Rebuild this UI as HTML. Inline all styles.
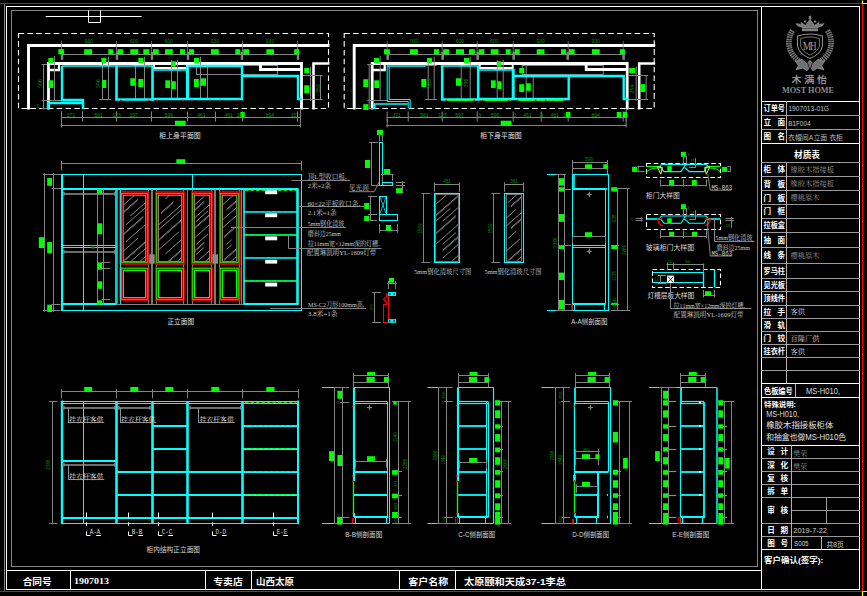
<!DOCTYPE html>
<html lang="zh"><head><meta charset="utf-8"><title>CAD drawing - wardrobe elevation</title>
<style>html,body{margin:0;padding:0;background:#000;overflow:hidden}svg{display:block}.cj{font-family:"Liberation Sans","Noto Sans CJK SC",sans-serif}.cs{font-family:"Liberation Serif","Noto Serif CJK SC",serif}</style></head>
<body><svg width="867" height="596" viewBox="0 0 867 596" fill="none" font-family="Liberation Sans, sans-serif">
<rect width="867" height="596" fill="#000"/>
<g id="frame">
<path d="M0 3.5L863.2 3.5" stroke="#ff0000" stroke-width="1.2"/>
<path d="M862.5 3L862.5 591.5" stroke="#ff0000" stroke-width="1.2"/>
<path d="M0 591.5L863.2 591.5" stroke="#ff0000" stroke-width="1.2"/>
<path d="M862.5 0.5L862.5 3.5L867.5 3.5" stroke="#ffff00" stroke-width="1.2" fill="none"/>
<path d="M862.5 596.5L862.5 591.5L867.5 591.5" stroke="#ffff00" stroke-width="1.2" fill="none"/>
<path d="M4.5 4L4.5 590.5" stroke="#848484" stroke-width="1"/>
<rect x="6.5" y="6.5" width="853" height="583" fill="none" stroke="#ffffff" stroke-width="1"/>
<rect x="11.5" y="10.5" width="746" height="556" fill="none" stroke="#848484" stroke-width="1"/>
<path d="M761.5 6.5L761.5 589" stroke="#ffffff" stroke-width="1"/>
<path d="M6.3 570.5L761.5 570.5" stroke="#ffffff" stroke-width="1"/>
<path d="M45.7 16.5L141.7 16.5" stroke="#ffffff" stroke-width="1"/>
<path d="M88.5 10.5L88.5 22.5L100.5 22.5L100.5 10.5" stroke="#ffffff" stroke-width="1" fill="none"/>
</g>
<g id="bottom_strip">
<path d="M70.5 570.3L70.5 589" stroke="#ffffff" stroke-width="1"/>
<path d="M205.5 570.3L205.5 589" stroke="#ffffff" stroke-width="1"/>
<path d="M251.5 570.3L251.5 589" stroke="#ffffff" stroke-width="1"/>
<path d="M399.5 570.3L399.5 589" stroke="#ffffff" stroke-width="1"/>
<path d="M455.5 570.3L455.5 589" stroke="#ffffff" stroke-width="1"/>
<text class="cj" x="22.7" y="584.6" font-size="9.4" font-weight="bold" fill="#ffffff" textLength="29" lengthAdjust="spacingAndGlyphs">合同号</text>
<text x="74" y="584.3" font-size="9.2" fill="#ffffff" font-family="Liberation Serif" font-weight="bold" textLength="35" lengthAdjust="spacingAndGlyphs">1907013</text>
<text class="cj" x="213.3" y="584.6" font-size="9.4" font-weight="bold" fill="#ffffff" textLength="29.4" lengthAdjust="spacingAndGlyphs">专卖店</text>
<text class="cj" x="256" y="584.6" font-size="9.4" font-weight="bold" fill="#ffffff" textLength="38" lengthAdjust="spacingAndGlyphs">山西太原</text>
<text class="cj" x="408.3" y="584.6" font-size="9.4" font-weight="bold" fill="#ffffff" textLength="40" lengthAdjust="spacingAndGlyphs">客户名称</text>
<text class="cj" x="464" y="584.6" font-size="9.4" font-weight="bold" fill="#ffffff" textLength="102" lengthAdjust="spacingAndGlyphs">太原颐和天成37-1李总</text>
</g>
<g id="title_block">
<rect x="802" y="28.6" width="16" height="2.6" fill="#808080"/>
<path d="M802.5 28L801 22.5L805.5 25.6L810 19.5L814.5 25.6L819 22.5L817.5 28z" stroke="#8c8c8c" stroke-width="0.9" fill="#787878"/>
<path d="M802 27.5 Q797 27 795.6 23.2 Q799.5 23 802.6 25.4 Z M818 27.5 Q823 27 824.4 23.2 Q820.5 23 817.4 25.4 Z" fill="#808080"/>
<circle cx="810" cy="18.2" r="1.3" fill="#8c8c8c"/><circle cx="805" cy="21.6" r="1.1" fill="#8c8c8c"/><circle cx="815" cy="21.6" r="1.1" fill="#8c8c8c"/>
<path d="M810.5 15.6L810.5 19" stroke="#8c8c8c" stroke-width="0.9"/>
<path d="M808.8 16.5L811.2 16.5" stroke="#8c8c8c" stroke-width="0.9"/>
<path d="M797.5 36 Q810 32 822.5 36 L822.5 46 Q821 54 810 58.5 Q799 54 797.5 46 Z" stroke="#8c8c8c" stroke-width="1.1"/>
<path d="M800.6 38.5 Q810 35.4 819.4 38.5 L819.4 46 Q818 51.5 810 55 Q802 51.5 800.6 46 Z" stroke="#8c8c8c" stroke-width="0.8"/>
<text x="807" y="50.2" font-size="12.5" fill="#9a9a9a" text-anchor="middle" font-family="Liberation Serif" textLength="8.6" lengthAdjust="spacingAndGlyphs">M</text>
<text x="813.2" y="50.2" font-size="12.5" fill="#9a9a9a" text-anchor="middle" font-family="Liberation Serif" textLength="6.6" lengthAdjust="spacingAndGlyphs">H</text>
<path d="M792.5 30.5 Q786.5 40 790.5 51 Q794 58.5 802 62.5" stroke="#7c7c7c" stroke-width="5.6" stroke-dasharray="1.5 0.7"/>
<path d="M827.5 30.5 Q833.5 40 829.5 51 Q826 58.5 818 62.5" stroke="#7c7c7c" stroke-width="5.6" stroke-dasharray="1.5 0.7"/>
<path d="M792.5 30.5 Q786.5 40 790.5 51 Q794 58.5 802 62.5 M827.5 30.5 Q833.5 40 829.5 51 Q826 58.5 818 62.5" stroke="#000" stroke-width="0.6" opacity="0.6"/>
<path d="M795.5 61.5L802 59.5L806.5 63.5L810 60.5L813.5 63.5L818 59.5L824.5 61.5L821.5 65.5L824 69.8L817 68L813 70.8L810 66.5L807 70.8L803 68L796 69.8L798.5 65.5z" stroke="#8c8c8c" stroke-width="0.9" fill="#707070"/>
<path d="M806.5 60L810 69.5L813.5 60" stroke="#000" stroke-width="0.7" fill="none"/>
<text class="cj" x="791.4" y="83.2" font-size="9.2" font-weight="bold" fill="#939393" textLength="35.7" lengthAdjust="spacingAndGlyphs" xml:space="preserve">木 满 怡</text>
<text x="808" y="92.9" font-size="8.6" fill="#8a8a8a" text-anchor="middle" font-family="Liberation Serif" font-weight="bold" textLength="52.2" lengthAdjust="spacingAndGlyphs">MOST HOME</text>
<path d="M761.5 101.5L859.8 101.5" stroke="#ffffff" stroke-width="1"/>
<path d="M761.5 115.5L859.8 115.5" stroke="#9a9a9a" stroke-width="1"/>
<path d="M761.5 129.5L859.8 129.5" stroke="#9a9a9a" stroke-width="1"/>
<path d="M761.5 143.5L859.8 143.5" stroke="#ffffff" stroke-width="1"/>
<path d="M761.5 162.5L859.8 162.5" stroke="#9a9a9a" stroke-width="1"/>
<path d="M761.5 176.5L859.8 176.5" stroke="#9a9a9a" stroke-width="1"/>
<path d="M761.5 190.5L859.8 190.5" stroke="#9a9a9a" stroke-width="1"/>
<path d="M761.5 204.5L859.8 204.5" stroke="#9a9a9a" stroke-width="1"/>
<path d="M761.5 218.5L859.8 218.5" stroke="#9a9a9a" stroke-width="1"/>
<path d="M761.5 232.5L859.8 232.5" stroke="#9a9a9a" stroke-width="1"/>
<path d="M761.5 247.5L859.8 247.5" stroke="#9a9a9a" stroke-width="1"/>
<path d="M761.5 263.5L859.8 263.5" stroke="#9a9a9a" stroke-width="1"/>
<path d="M761.5 278.5L859.8 278.5" stroke="#9a9a9a" stroke-width="1"/>
<path d="M761.5 291.5L859.8 291.5" stroke="#9a9a9a" stroke-width="1"/>
<path d="M761.5 305.5L859.8 305.5" stroke="#9a9a9a" stroke-width="1"/>
<path d="M761.5 318.5L859.8 318.5" stroke="#9a9a9a" stroke-width="1"/>
<path d="M761.5 331.5L859.8 331.5" stroke="#9a9a9a" stroke-width="1"/>
<path d="M761.5 344.5L859.8 344.5" stroke="#9a9a9a" stroke-width="1"/>
<path d="M761.5 357.5L859.8 357.5" stroke="#9a9a9a" stroke-width="1"/>
<path d="M761.5 370.5L859.8 370.5" stroke="#9a9a9a" stroke-width="1"/>
<path d="M761.5 383.5L859.8 383.5" stroke="#ffffff" stroke-width="1"/>
<path d="M761.5 397.5L859.8 397.5" stroke="#ffffff" stroke-width="1"/>
<path d="M786.5 101.2L786.5 143.3" stroke="#b0b0b0" stroke-width="1"/>
<path d="M786.5 162.7L786.5 383.4" stroke="#b0b0b0" stroke-width="1"/>
<path d="M795.5 383.4L795.5 397.4" stroke="#b0b0b0" stroke-width="1"/>
<text class="cj" x="763.6" y="110.99" font-size="7.6" font-weight="bold" fill="#ffffff" textLength="21.4" lengthAdjust="spacingAndGlyphs">订单号</text>
<text class="cj" x="763.6" y="125.04" font-size="7.6" font-weight="bold" fill="#ffffff">立</text>
<text class="cj" x="777.4" y="125.04" font-size="7.6" font-weight="bold" fill="#ffffff">面</text>
<text class="cj" x="763.6" y="139.04" font-size="7.6" font-weight="bold" fill="#ffffff">图</text>
<text class="cj" x="777.4" y="139.04" font-size="7.6" font-weight="bold" fill="#ffffff">名</text>
<text x="788.4" y="111.1" font-size="6.8" fill="#c4c4cc" textLength="40.6" lengthAdjust="spacingAndGlyphs">1907013-01G</text>
<text x="788.2" y="126" font-size="6.8" fill="#c4c4cc" textLength="22.3" lengthAdjust="spacingAndGlyphs">B1F004</text>
<text class="cj" x="788" y="139.9" font-size="7.2" fill="#b8b8b8" textLength="55" lengthAdjust="spacingAndGlyphs" xml:space="preserve">衣帽间A立面 衣柜</text>
<text class="cj" x="794" y="157.8" font-size="8.6" font-weight="bold" fill="#ffffff" textLength="26" lengthAdjust="spacingAndGlyphs">材质表</text>
<text class="cj" x="763.6" y="172.49" font-size="7.6" font-weight="bold" fill="#ffffff">柜</text>
<text class="cj" x="777.4" y="172.49" font-size="7.6" font-weight="bold" fill="#ffffff">体</text>
<text class="cs" x="790.4" y="172.34" font-size="7.2" fill="#9c9c9c" textLength="43.5" lengthAdjust="spacingAndGlyphs">橡胶木指接板</text>
<text class="cj" x="763.6" y="186.54" font-size="7.6" font-weight="bold" fill="#ffffff">背</text>
<text class="cj" x="777.4" y="186.54" font-size="7.6" font-weight="bold" fill="#ffffff">板</text>
<text class="cs" x="790.4" y="186.39" font-size="7.2" fill="#9c9c9c" textLength="43.5" lengthAdjust="spacingAndGlyphs">橡胶木指接板</text>
<text class="cj" x="763.6" y="200.54" font-size="7.6" font-weight="bold" fill="#ffffff">门</text>
<text class="cj" x="777.4" y="200.54" font-size="7.6" font-weight="bold" fill="#ffffff">板</text>
<text class="cs" x="790.4" y="200.39" font-size="7.2" fill="#9c9c9c" textLength="29" lengthAdjust="spacingAndGlyphs">樱桃原木</text>
<text class="cj" x="763.6" y="214.29" font-size="7.6" font-weight="bold" fill="#ffffff">门</text>
<text class="cj" x="777.4" y="214.29" font-size="7.6" font-weight="bold" fill="#ffffff">框</text>
<text class="cj" x="763.6" y="228.24" font-size="7.6" font-weight="bold" fill="#ffffff" textLength="21.4" lengthAdjust="spacingAndGlyphs">拉板盒</text>
<text class="cj" x="763.6" y="242.74" font-size="7.6" font-weight="bold" fill="#ffffff">抽</text>
<text class="cj" x="777.4" y="242.74" font-size="7.6" font-weight="bold" fill="#ffffff">面</text>
<text class="cj" x="763.6" y="258.14" font-size="7.6" font-weight="bold" fill="#ffffff">线</text>
<text class="cj" x="777.4" y="258.14" font-size="7.6" font-weight="bold" fill="#ffffff">条</text>
<text class="cs" x="790.4" y="257.99" font-size="7.2" fill="#9c9c9c" textLength="29" lengthAdjust="spacingAndGlyphs">樱桃原木</text>
<text class="cj" x="763.6" y="273.89" font-size="7.6" font-weight="bold" fill="#ffffff" textLength="21.4" lengthAdjust="spacingAndGlyphs">罗马柱</text>
<text class="cj" x="763.6" y="287.89" font-size="7.6" font-weight="bold" fill="#ffffff" textLength="21.4" lengthAdjust="spacingAndGlyphs">见光板</text>
<text class="cj" x="763.6" y="301.24" font-size="7.6" font-weight="bold" fill="#ffffff" textLength="21.4" lengthAdjust="spacingAndGlyphs">顶线件</text>
<text class="cj" x="763.6" y="314.59" font-size="7.6" font-weight="bold" fill="#ffffff">拉</text>
<text class="cj" x="777.4" y="314.59" font-size="7.6" font-weight="bold" fill="#ffffff">手</text>
<text class="cs" x="790.4" y="314.44" font-size="7.2" fill="#d4d4d4" textLength="14.5" lengthAdjust="spacingAndGlyphs">客供</text>
<text class="cj" x="763.6" y="327.64" font-size="7.6" font-weight="bold" fill="#ffffff">滑</text>
<text class="cj" x="777.4" y="327.64" font-size="7.6" font-weight="bold" fill="#ffffff">轨</text>
<text class="cj" x="763.6" y="340.94" font-size="7.6" font-weight="bold" fill="#ffffff">门</text>
<text class="cj" x="777.4" y="340.94" font-size="7.6" font-weight="bold" fill="#ffffff">铰</text>
<text class="cs" x="790.4" y="340.79" font-size="7.2" fill="#d4d4d4" textLength="29" lengthAdjust="spacingAndGlyphs">百隆厂供</text>
<text class="cj" x="763.6" y="353.94" font-size="7.6" font-weight="bold" fill="#ffffff" textLength="21.4" lengthAdjust="spacingAndGlyphs">挂衣杆</text>
<text class="cs" x="790.4" y="353.79" font-size="7.2" fill="#d4d4d4" textLength="14.5" lengthAdjust="spacingAndGlyphs">客供</text>
<text class="cj" x="764" y="393.6" font-size="7.6" font-weight="bold" fill="#ffffff" textLength="28.7" lengthAdjust="spacingAndGlyphs">色板编号</text>
<text x="806" y="394" font-size="8.6" fill="#dcdcdc" textLength="34" lengthAdjust="spacingAndGlyphs">MS-H010,</text>
<text class="cj" x="764" y="407" font-size="7.4" font-weight="bold" fill="#ffffff">特殊说明:</text>
<text x="766.2" y="417" font-size="8.4" fill="#dcdcdc" textLength="32.8" lengthAdjust="spacingAndGlyphs">MS-H010,</text>
<text class="cj" x="766.2" y="428.3" font-size="8.3" fill="#e0e0e0" textLength="67.2" lengthAdjust="spacingAndGlyphs">橡胶木指接板柜体</text>
<text class="cj" x="766.2" y="439.8" font-size="8.3" fill="#e0e0e0" textLength="79.9" lengthAdjust="spacingAndGlyphs">和抽盒也做MS-H010色</text>
<path d="M761.5 445.5L859.8 445.5" stroke="#ffffff" stroke-width="1"/>
<path d="M761.5 458.5L859.8 458.5" stroke="#9a9a9a" stroke-width="1"/>
<path d="M761.5 471.5L859.8 471.5" stroke="#9a9a9a" stroke-width="1"/>
<path d="M761.5 484.5L859.8 484.5" stroke="#9a9a9a" stroke-width="1"/>
<path d="M761.5 497.5L859.8 497.5" stroke="#9a9a9a" stroke-width="1"/>
<path d="M761.5 523.5L859.8 523.5" stroke="#9a9a9a" stroke-width="1"/>
<path d="M761.5 536.5L859.8 536.5" stroke="#9a9a9a" stroke-width="1"/>
<path d="M791.2 510.5L859.8 510.5" stroke="#9a9a9a" stroke-width="1"/>
<path d="M761.5 549.5L859.8 549.5" stroke="#ffffff" stroke-width="1"/>
<path d="M791.5 445.2L791.5 549.3" stroke="#b0b0b0" stroke-width="1"/>
<path d="M826.5 497.4L826.5 523.4" stroke="#9a9a9a" stroke-width="1"/>
<path d="M821.5 536.5L821.5 549.3" stroke="#b0b0b0" stroke-width="1"/>
<text class="cj" x="767.2" y="454.44" font-size="7.6" font-weight="bold" fill="#ffffff">设</text>
<text class="cj" x="780.6" y="454.44" font-size="7.6" font-weight="bold" fill="#ffffff">计</text>
<text class="cj" x="767.2" y="467.64" font-size="7.6" font-weight="bold" fill="#ffffff">深</text>
<text class="cj" x="780.6" y="467.64" font-size="7.6" font-weight="bold" fill="#ffffff">化</text>
<text class="cj" x="767.2" y="480.94" font-size="7.6" font-weight="bold" fill="#ffffff">复</text>
<text class="cj" x="780.6" y="480.94" font-size="7.6" font-weight="bold" fill="#ffffff">核</text>
<text class="cj" x="767.2" y="493.84" font-size="7.6" font-weight="bold" fill="#ffffff">拆</text>
<text class="cj" x="780.6" y="493.84" font-size="7.6" font-weight="bold" fill="#ffffff">单</text>
<text class="cj" x="767.2" y="513.14" font-size="7.6" font-weight="bold" fill="#ffffff">审</text>
<text class="cj" x="780.6" y="513.14" font-size="7.6" font-weight="bold" fill="#ffffff">核</text>
<text class="cj" x="767.2" y="532.69" font-size="7.6" font-weight="bold" fill="#ffffff">日</text>
<text class="cj" x="780.6" y="532.69" font-size="7.6" font-weight="bold" fill="#ffffff">期</text>
<text class="cj" x="767.2" y="545.64" font-size="7.6" font-weight="bold" fill="#ffffff">图</text>
<text class="cj" x="780.6" y="545.64" font-size="7.6" font-weight="bold" fill="#ffffff">号</text>
<text class="cs" x="793.3" y="455.8" font-size="7" fill="#909090" textLength="13.7" lengthAdjust="spacingAndGlyphs">樊荣</text>
<text class="cs" x="793.3" y="469" font-size="7" fill="#909090" textLength="13.7" lengthAdjust="spacingAndGlyphs">樊荣</text>
<text x="793.3" y="533.3" font-size="7" fill="#d0d0d0" textLength="33.6" lengthAdjust="spacingAndGlyphs">2019-7-22</text>
<text x="794" y="546.3" font-size="7" fill="#d0d0d0" textLength="14.6" lengthAdjust="spacingAndGlyphs">S005</text>
<text class="cj" x="826.5" y="546.5" font-size="7" fill="#d0d0d0" textLength="17.3" lengthAdjust="spacingAndGlyphs">共8页</text>
<text class="cj" x="764" y="562.6" font-size="7.6" font-weight="bold" fill="#ffffff" textLength="59.3" lengthAdjust="spacingAndGlyphs">客户确认(签字):</text>
</g>
<g id="plan_upper">
<g transform="translate(0 0)">
<rect x="18.5" y="33.5" width="310" height="75" fill="none" stroke="#ffffff" stroke-width="1.1" stroke-dasharray="5.6 3.2"/>
<path d="M329.5 45.5L28.5 45.5L28.5 109.5" stroke="#ffffff" stroke-width="2.9" fill="none"/>
<rect x="196.5" y="65.5" width="81" height="9" fill="none" stroke="#848484" stroke-width="1"/>
<path d="M48.5 109.5L48.5 63.5L301.5 63.5L301.5 109.5" stroke="#ffffff" stroke-width="2.8" fill="none"/>
<path d="M48 70L59 70L59 64" stroke="#ffffff" stroke-width="2.3" fill="none"/>
<path d="M154 65L154 68L187 68L187 65" stroke="#ffffff" stroke-width="2" fill="none"/>
<path d="M260.5 64.5L260.5 69.5L301.5 69.5" stroke="#ffffff" stroke-width="2.9" fill="none"/>
<path d="M313.5 109.5L313.5 63.5L329.5 63.5" stroke="#ffffff" stroke-width="2.6" fill="none"/>
<path d="M61.7 54.5L297.5 54.5" stroke="#848484" stroke-width="1"/>
<path d="M61.5 41L61.5 59.5" stroke="#848484" stroke-width="0.8"/>
<path d="M62 51.8L62 59.8" stroke="#848484" stroke-width="2.4"/>
<path d="M116.5 41L116.5 59.5" stroke="#848484" stroke-width="0.8"/>
<path d="M117 51.8L117 59.8" stroke="#848484" stroke-width="2.4"/>
<path d="M151.5 41L151.5 59.5" stroke="#848484" stroke-width="0.8"/>
<path d="M152 51.8L152 59.8" stroke="#848484" stroke-width="2.4"/>
<path d="M187.5 41L187.5 59.5" stroke="#848484" stroke-width="0.8"/>
<path d="M188 51.8L188 59.8" stroke="#848484" stroke-width="2.4"/>
<path d="M242.5 41L242.5 59.5" stroke="#848484" stroke-width="0.8"/>
<path d="M242 51.8L242 59.8" stroke="#848484" stroke-width="2.4"/>
<path d="M297.5 41L297.5 59.5" stroke="#848484" stroke-width="0.8"/>
<path d="M298 51.8L298 59.8" stroke="#848484" stroke-width="2.4"/>
<path d="M60.8 117.5L300.8 117.5" stroke="#848484" stroke-width="1"/>
<path d="M61.5 111.5L61.5 121.5" stroke="#848484" stroke-width="1"/>
<path d="M82.5 111.5L82.5 121.5" stroke="#848484" stroke-width="1"/>
<path d="M116.5 111.5L116.5 121.5" stroke="#848484" stroke-width="1"/>
<path d="M151.5 111.5L151.5 121.5" stroke="#848484" stroke-width="1"/>
<path d="M187.5 111.5L187.5 121.5" stroke="#848484" stroke-width="1"/>
<path d="M215.5 111.5L215.5 121.5" stroke="#848484" stroke-width="1"/>
<path d="M242.5 111.5L242.5 121.5" stroke="#848484" stroke-width="1"/>
<path d="M297.5 111.5L297.5 121.5" stroke="#848484" stroke-width="1"/>
<path d="M300.5 111.5L300.5 121.5" stroke="#848484" stroke-width="1"/>
<path d="M60.7 125.5L300.7 125.5" stroke="#848484" stroke-width="1"/>
<path d="M61.5 119L61.5 127.5" stroke="#848484" stroke-width="1"/>
<path d="M300.5 110L300.5 127.5" stroke="#848484" stroke-width="1"/>
<path d="M43.5 64L43.5 109.3" stroke="#848484" stroke-width="1"/>
<path d="M41.5 64.5L47 64.5" stroke="#848484" stroke-width="1"/>
<path d="M41.5 100.5L62 100.5" stroke="#848484" stroke-width="1"/>
<path d="M41.5 108.5L47 108.5" stroke="#848484" stroke-width="1"/>
<path d="M54.5 56L54.5 100.3" stroke="#848484" stroke-width="1"/>
<path d="M102.5 60L102.5 100" stroke="#848484" stroke-width="1"/>
<path d="M108.5 56.7L108.5 100" stroke="#848484" stroke-width="1"/>
<path d="M135.5 65L135.5 100" stroke="#848484" stroke-width="1"/>
<path d="M144.5 56.7L144.5 100" stroke="#848484" stroke-width="1"/>
<path d="M171.5 60L171.5 100" stroke="#848484" stroke-width="1"/>
<path d="M177.5 60L177.5 100" stroke="#848484" stroke-width="1"/>
<path d="M200.5 56.7L200.5 100" stroke="#848484" stroke-width="1"/>
<path d="M207.5 65L207.5 100" stroke="#848484" stroke-width="1"/>
<path d="M99.2 99.5L111.2 99.5" stroke="#848484" stroke-width="1"/>
<path d="M132.8 99.5L144.8 99.5" stroke="#848484" stroke-width="1"/>
<path d="M168.7 99.5L180.7 99.5" stroke="#848484" stroke-width="1"/>
<path d="M197.8 99.5L209.8 99.5" stroke="#848484" stroke-width="1"/>
<path d="M99.2 65.5L111.2 65.5" stroke="#848484" stroke-width="1"/>
<path d="M132.8 65.5L144.8 65.5" stroke="#848484" stroke-width="1"/>
<path d="M197.8 65.5L209.8 65.5" stroke="#848484" stroke-width="1"/>
<path d="M168 69.5L181 69.5" stroke="#848484" stroke-width="1"/>
<path d="M310.5 66.7L310.5 100.8" stroke="#848484" stroke-width="1"/>
<path d="M320.5 75.5L320.5 99.7" stroke="#848484" stroke-width="1"/>
<path d="M303 75.5L322.5 75.5" stroke="#848484" stroke-width="1"/>
<path d="M303 99.5L322.5 99.5" stroke="#848484" stroke-width="1"/>
<path d="M62 66L62 100L83 100L83 109" stroke="#00ffff" stroke-width="2.4" fill="none"/>
<path d="M48 109L48 103L83 103" stroke="#00ffff" stroke-width="2.4" fill="none"/>
<path d="M62 66L152.5 66" stroke="#00ffff" stroke-width="1.6"/>
<path d="M116.5 65.5L116.5 99.5L152.5 99.5L152.5 65.5" stroke="#00ffff" stroke-width="2.6" fill="none"/>
<path d="M152 70L188 70" stroke="#00ffff" stroke-width="1.6" fill="none"/>
<path d="M152 99L188 99" stroke="#00ffff" stroke-width="2.4" fill="none"/>
<path d="M187.5 65.5L187.5 100" stroke="#00ffff" stroke-width="3"/>
<path d="M188 66L242 66L242 99L188 99" stroke="#00ffff" stroke-width="2.4" fill="none"/>
<path d="M242 76L298 76L298 99L302 99" stroke="#00ffff" stroke-width="2.4" fill="none"/>
<rect x="120" y="99.7" width="1.6" height="1.6" fill="#ff0000"/>
<rect x="147.7" y="99.7" width="1.6" height="1.6" fill="#ff0000"/>
<rect x="155.9" y="99.7" width="1.6" height="1.6" fill="#ff0000"/>
<rect x="182.2" y="99.7" width="1.6" height="1.6" fill="#ff0000"/>
<rect x="191.2" y="99.7" width="1.6" height="1.6" fill="#ff0000"/>
<rect x="209.2" y="99.7" width="1.6" height="1.6" fill="#ff0000"/>
<rect x="219.2" y="99.7" width="1.6" height="1.6" fill="#ff0000"/>
<rect x="237.5" y="99.7" width="1.6" height="1.6" fill="#ff0000"/>
<rect x="58.3" y="49.2" width="5.9" height="5.1" fill="#00ff00"/>
<rect x="84.2" y="49.2" width="8" height="5.1" fill="#00ff00"/>
<rect x="108.3" y="49.2" width="5" height="5.1" fill="#00ff00"/>
<rect x="117.5" y="49.2" width="5.8" height="5.1" fill="#00ff00"/>
<rect x="130.3" y="49.2" width="8" height="5.1" fill="#00ff00"/>
<rect x="143.3" y="49.2" width="5.9" height="5.1" fill="#00ff00"/>
<rect x="153" y="49.2" width="5.7" height="5.1" fill="#00ff00"/>
<rect x="165" y="49.2" width="7.8" height="5.1" fill="#00ff00"/>
<rect x="180" y="49.2" width="5" height="5.1" fill="#00ff00"/>
<rect x="189" y="49.2" width="5" height="5.1" fill="#00ff00"/>
<rect x="211" y="49.2" width="7.8" height="5.1" fill="#00ff00"/>
<rect x="235.3" y="49.2" width="5" height="5.1" fill="#00ff00"/>
<rect x="243.3" y="49.2" width="5.7" height="5.1" fill="#00ff00"/>
<rect x="266.3" y="49.2" width="7.7" height="5.1" fill="#00ff00"/>
<rect x="294.2" y="49.2" width="5" height="5.1" fill="#00ff00"/>
<rect x="48.3" y="58" width="5" height="5" fill="#00ff00"/>
<rect x="101.3" y="58" width="5" height="5" fill="#00ff00"/>
<rect x="138.3" y="58" width="5" height="5" fill="#00ff00"/>
<rect x="171.3" y="61.3" width="4.5" height="5.4" fill="#00ff00"/>
<rect x="48.6" y="80.3" width="4.8" height="7.7" fill="#00ff00"/>
<rect x="130.3" y="78.3" width="5" height="7.5" fill="#00ff00"/>
<rect x="165.3" y="80.3" width="4.7" height="7.7" fill="#00ff00"/>
<rect x="171.7" y="81.3" width="4.1" height="7.7" fill="#00ff00"/>
<rect x="194" y="58" width="5" height="5" fill="#00ff00"/>
<rect x="194" y="79" width="4.8" height="8" fill="#00ff00"/>
<rect x="200.8" y="78.3" width="5.2" height="7.5" fill="#00ff00"/>
<rect x="102.2" y="80" width="4.1" height="8" fill="#00ff00"/>
<rect x="138.3" y="79" width="5" height="8" fill="#00ff00"/>
<text transform="translate(42 83.5) rotate(-90)" font-size="5" fill="#009400" text-anchor="middle">596</text>
<text transform="translate(100.3 83.5) rotate(-90)" font-size="5" fill="#009400" text-anchor="middle">596</text>
<text x="36.5" y="108" font-size="4.5" fill="#009400">5</text>
<rect x="304.2" y="68" width="5" height="5.3" fill="#00ff00"/>
<rect x="304.2" y="85.3" width="5" height="7.7" fill="#00ff00"/>
<text transform="translate(319.6 88.5) rotate(-90)" font-size="5" fill="#009400" text-anchor="middle">353</text>
<rect x="240.3" y="112" width="4.4" height="5.6" fill="#00ff00"/>
<rect x="175" y="120.7" width="10.7" height="5.1" fill="#00ff00"/>
<text x="88.7" y="43.2" font-size="5" fill="#009400" text-anchor="middle">930</text>
<text x="134.2" y="43.2" font-size="5" fill="#009400" text-anchor="middle">600</text>
<text x="168.7" y="43.2" font-size="5" fill="#009400" text-anchor="middle">600</text>
<text x="215" y="43.2" font-size="5" fill="#009400" text-anchor="middle">930</text>
<text x="270" y="43.2" font-size="5" fill="#009400" text-anchor="middle">930</text>
<text x="71" y="117.2" font-size="5" fill="#009400" text-anchor="middle">371</text>
<text x="98.7" y="117.2" font-size="5" fill="#009400" text-anchor="middle">561</text>
<text x="116.7" y="117.2" font-size="5" fill="#009400" text-anchor="middle">123</text>
<text x="133.7" y="117.2" font-size="5" fill="#009400" text-anchor="middle">397</text>
<text x="168.8" y="117.2" font-size="5" fill="#009400" text-anchor="middle">596</text>
<text x="201.3" y="117.2" font-size="5" fill="#009400" text-anchor="middle">461</text>
<text x="228.7" y="117.2" font-size="5" fill="#009400" text-anchor="middle">461</text>
<text x="239.5" y="117.2" font-size="5" fill="#009400" text-anchor="middle">30</text>
<text x="270" y="117.2" font-size="5" fill="#009400" text-anchor="middle">894</text>
<text x="293.5" y="117.2" font-size="5" fill="#009400" text-anchor="middle">15</text>
<text x="300.5" y="117.2" font-size="5" fill="#009400" text-anchor="middle">4</text>
</g>
<text class="cj" x="159.3" y="138.4" font-size="6.9" fill="#e0e0e0" textLength="41.4" lengthAdjust="spacingAndGlyphs">柜上身平面图</text>
</g>
<g id="plan_lower">
<g transform="translate(325.7 0)">
<rect x="18.5" y="33.5" width="310" height="75" fill="none" stroke="#ffffff" stroke-width="1.1" stroke-dasharray="5.6 3.2"/>
<path d="M329.5 45.5L28.5 45.5L28.5 109.5" stroke="#ffffff" stroke-width="2.9" fill="none"/>
<rect x="196.5" y="65.5" width="81" height="9" fill="none" stroke="#848484" stroke-width="1"/>
<path d="M46.5 109.5L46.5 63.5L301.5 63.5L301.5 109.5" stroke="#ffffff" stroke-width="2.8" fill="none"/>
<path d="M47 70L59 70L59 64" stroke="#ffffff" stroke-width="2.3" fill="none"/>
<path d="M154 65L154 68L187 68L187 65" stroke="#ffffff" stroke-width="2" fill="none"/>
<path d="M260.5 64.5L260.5 69.5L301.5 69.5" stroke="#ffffff" stroke-width="2.9" fill="none"/>
<path d="M313.5 109.5L313.5 63.5L329.5 63.5" stroke="#ffffff" stroke-width="2.6" fill="none"/>
<path d="M61.7 54.5L297.5 54.5" stroke="#848484" stroke-width="1"/>
<path d="M61.5 41L61.5 59.5" stroke="#848484" stroke-width="0.8"/>
<path d="M62 51.8L62 59.8" stroke="#848484" stroke-width="2.4"/>
<path d="M116.5 41L116.5 59.5" stroke="#848484" stroke-width="0.8"/>
<path d="M117 51.8L117 59.8" stroke="#848484" stroke-width="2.4"/>
<path d="M151.5 41L151.5 59.5" stroke="#848484" stroke-width="0.8"/>
<path d="M152 51.8L152 59.8" stroke="#848484" stroke-width="2.4"/>
<path d="M187.5 41L187.5 59.5" stroke="#848484" stroke-width="0.8"/>
<path d="M188 51.8L188 59.8" stroke="#848484" stroke-width="2.4"/>
<path d="M242.5 41L242.5 59.5" stroke="#848484" stroke-width="0.8"/>
<path d="M242 51.8L242 59.8" stroke="#848484" stroke-width="2.4"/>
<path d="M297.5 41L297.5 59.5" stroke="#848484" stroke-width="0.8"/>
<path d="M298 51.8L298 59.8" stroke="#848484" stroke-width="2.4"/>
<path d="M60.8 117.5L300.8 117.5" stroke="#848484" stroke-width="1"/>
<path d="M61.5 111.5L61.5 121.5" stroke="#848484" stroke-width="1"/>
<path d="M82.5 111.5L82.5 121.5" stroke="#848484" stroke-width="1"/>
<path d="M116.5 111.5L116.5 121.5" stroke="#848484" stroke-width="1"/>
<path d="M151.5 111.5L151.5 121.5" stroke="#848484" stroke-width="1"/>
<path d="M187.5 111.5L187.5 121.5" stroke="#848484" stroke-width="1"/>
<path d="M215.5 111.5L215.5 121.5" stroke="#848484" stroke-width="1"/>
<path d="M242.5 111.5L242.5 121.5" stroke="#848484" stroke-width="1"/>
<path d="M297.5 111.5L297.5 121.5" stroke="#848484" stroke-width="1"/>
<path d="M300.5 111.5L300.5 121.5" stroke="#848484" stroke-width="1"/>
<path d="M60.7 125.5L300.7 125.5" stroke="#848484" stroke-width="1"/>
<path d="M61.5 119L61.5 127.5" stroke="#848484" stroke-width="1"/>
<path d="M300.5 110L300.5 127.5" stroke="#848484" stroke-width="1"/>
<path d="M43.5 64L43.5 109.3" stroke="#848484" stroke-width="1"/>
<path d="M41.5 64.5L47 64.5" stroke="#848484" stroke-width="1"/>
<path d="M41.5 100.5L62 100.5" stroke="#848484" stroke-width="1"/>
<path d="M41.5 108.5L47 108.5" stroke="#848484" stroke-width="1"/>
<path d="M54.5 56L54.5 100.3" stroke="#848484" stroke-width="1"/>
<path d="M102.5 60L102.5 100" stroke="#848484" stroke-width="1"/>
<path d="M108.5 56.7L108.5 100" stroke="#848484" stroke-width="1"/>
<path d="M135.5 65L135.5 100" stroke="#848484" stroke-width="1"/>
<path d="M144.5 56.7L144.5 100" stroke="#848484" stroke-width="1"/>
<path d="M171.5 60L171.5 100" stroke="#848484" stroke-width="1"/>
<path d="M177.5 60L177.5 100" stroke="#848484" stroke-width="1"/>
<path d="M200.5 65.8L200.5 100" stroke="#848484" stroke-width="1"/>
<path d="M207.5 75L207.5 100" stroke="#848484" stroke-width="1"/>
<path d="M99.2 99.5L111.2 99.5" stroke="#848484" stroke-width="1"/>
<path d="M132.8 99.5L144.8 99.5" stroke="#848484" stroke-width="1"/>
<path d="M168.7 99.5L180.7 99.5" stroke="#848484" stroke-width="1"/>
<path d="M197.8 99.5L209.8 99.5" stroke="#848484" stroke-width="1"/>
<path d="M99.2 65.5L111.2 65.5" stroke="#848484" stroke-width="1"/>
<path d="M132.8 65.5L144.8 65.5" stroke="#848484" stroke-width="1"/>
<path d="M197.8 65.5L209.8 65.5" stroke="#848484" stroke-width="1"/>
<path d="M168 69.5L181 69.5" stroke="#848484" stroke-width="1"/>
<path d="M310.5 66.7L310.5 100.8" stroke="#848484" stroke-width="1"/>
<path d="M320.5 75.5L320.5 99.7" stroke="#848484" stroke-width="1"/>
<path d="M303 75.5L322.5 75.5" stroke="#848484" stroke-width="1"/>
<path d="M303 99.5L322.5 99.5" stroke="#848484" stroke-width="1"/>
<path d="M61.5 66.5L61.5 101.5L82.5 101.5L82.5 108.5" stroke="#00ffff" stroke-width="1" fill="none"/>
<path d="M63.5 66.5L63.5 99.5L84.5 99.5L84.5 108.5" stroke="#00ffff" stroke-width="1" fill="none"/>
<path d="M49 109L49 104L82 104" stroke="#00ffff" stroke-width="1.6" fill="none"/>
<path d="M61 66L100 66" stroke="#00ffff" stroke-width="1.6"/>
<path d="M115 66L152.5 66" stroke="#00ffff" stroke-width="1.6"/>
<path d="M116.5 65.5L116.5 99.5L152.5 99.5L152.5 65.5" stroke="#00ffff" stroke-width="2.6" fill="none"/>
<path d="M152 70L188 70" stroke="#00ffff" stroke-width="1.6" fill="none"/>
<path d="M152 99L188 99" stroke="#00ffff" stroke-width="2.4" fill="none"/>
<path d="M187.5 68.7L187.5 100" stroke="#00ffff" stroke-width="3"/>
<path d="M188 76L298 76L298 99L303 99" stroke="#00ffff" stroke-width="2.4" fill="none"/>
<path d="M243 76L243 99L188 99" stroke="#00ffff" stroke-width="2.4" fill="none"/>
<path d="M120 100.5L150 100.5" stroke="#00ff00" stroke-width="1"/>
<path d="M155 100.5L185 100.5" stroke="#00ff00" stroke-width="1"/>
<path d="M191 100.5L240 100.5" stroke="#00ff00" stroke-width="1"/>
<rect x="120" y="99.7" width="1.6" height="1.6" fill="#ff0000"/>
<rect x="147.7" y="99.7" width="1.6" height="1.6" fill="#ff0000"/>
<rect x="155.9" y="99.7" width="1.6" height="1.6" fill="#ff0000"/>
<rect x="182.2" y="99.7" width="1.6" height="1.6" fill="#ff0000"/>
<rect x="191.2" y="99.7" width="1.6" height="1.6" fill="#ff0000"/>
<rect x="209.2" y="99.7" width="1.6" height="1.6" fill="#ff0000"/>
<rect x="219.2" y="99.7" width="1.6" height="1.6" fill="#ff0000"/>
<rect x="237.5" y="99.7" width="1.6" height="1.6" fill="#ff0000"/>
<rect x="58.3" y="49.2" width="5.9" height="5.1" fill="#00ff00"/>
<rect x="84.2" y="49.2" width="8" height="5.1" fill="#00ff00"/>
<rect x="108.3" y="49.2" width="5" height="5.1" fill="#00ff00"/>
<rect x="117.5" y="49.2" width="5.8" height="5.1" fill="#00ff00"/>
<rect x="130.3" y="49.2" width="8" height="5.1" fill="#00ff00"/>
<rect x="143.3" y="49.2" width="5.9" height="5.1" fill="#00ff00"/>
<rect x="153" y="49.2" width="5.7" height="5.1" fill="#00ff00"/>
<rect x="165" y="49.2" width="7.8" height="5.1" fill="#00ff00"/>
<rect x="180" y="49.2" width="5" height="5.1" fill="#00ff00"/>
<rect x="189" y="49.2" width="5" height="5.1" fill="#00ff00"/>
<rect x="211" y="49.2" width="7.8" height="5.1" fill="#00ff00"/>
<rect x="235.3" y="49.2" width="5" height="5.1" fill="#00ff00"/>
<rect x="243.3" y="49.2" width="5.7" height="5.1" fill="#00ff00"/>
<rect x="266.3" y="49.2" width="7.7" height="5.1" fill="#00ff00"/>
<rect x="294.2" y="49.2" width="5" height="5.1" fill="#00ff00"/>
<rect x="48.3" y="58" width="5" height="5" fill="#00ff00"/>
<rect x="101.3" y="58" width="5" height="5" fill="#00ff00"/>
<rect x="138.3" y="58" width="5" height="5" fill="#00ff00"/>
<rect x="171.3" y="61.3" width="4.5" height="5.4" fill="#00ff00"/>
<rect x="48.6" y="80.3" width="4.8" height="7.7" fill="#00ff00"/>
<rect x="130.3" y="78.3" width="5" height="7.5" fill="#00ff00"/>
<rect x="165.3" y="80.3" width="4.7" height="7.7" fill="#00ff00"/>
<rect x="171.7" y="81.3" width="4.1" height="7.7" fill="#00ff00"/>
<rect x="193.5" y="68" width="5" height="5.3" fill="#00ff00"/>
<rect x="193.5" y="84.2" width="5" height="7.8" fill="#00ff00"/>
<rect x="200.5" y="83.3" width="4.6" height="7.5" fill="#00ff00"/>
<rect x="37.6" y="79.2" width="5" height="7.8" fill="#00ff00"/>
<rect x="37.6" y="104.2" width="5" height="5.8" fill="#00ff00"/>
<rect x="95.6" y="79" width="5" height="8" fill="#00ff00"/>
<text transform="translate(105.4 83.5) rotate(-90)" font-size="5" fill="#009400" text-anchor="middle">563</text>
<text transform="translate(142.6 83) rotate(-90)" font-size="5" fill="#009400" text-anchor="middle">396</text>
<rect x="303.5" y="68" width="6.1" height="5.3" fill="#00ff00"/>
<rect x="314.6" y="84.2" width="5" height="7.8" fill="#00ff00"/>
<text transform="translate(308.6 89) rotate(-90)" font-size="5" fill="#009400" text-anchor="middle">354</text>
<rect x="240.3" y="112" width="4.4" height="5.6" fill="#00ff00"/>
<rect x="291" y="112" width="4.6" height="5.6" fill="#00ff00"/>
<rect x="297.3" y="112" width="4.2" height="5.6" fill="#00ff00"/>
<rect x="175" y="120.7" width="10.7" height="5.1" fill="#00ff00"/>
<text x="88.7" y="43.2" font-size="5" fill="#009400" text-anchor="middle">930</text>
<text x="134.2" y="43.2" font-size="5" fill="#009400" text-anchor="middle">600</text>
<text x="168.7" y="43.2" font-size="5" fill="#009400" text-anchor="middle">600</text>
<text x="215" y="43.2" font-size="5" fill="#009400" text-anchor="middle">930</text>
<text x="270" y="43.2" font-size="5" fill="#009400" text-anchor="middle">930</text>
<text x="71" y="117.2" font-size="5" fill="#009400" text-anchor="middle">371</text>
<text x="98.7" y="117.2" font-size="5" fill="#009400" text-anchor="middle">561</text>
<text x="116.7" y="117.2" font-size="5" fill="#009400" text-anchor="middle">123</text>
<text x="133.7" y="117.2" font-size="5" fill="#009400" text-anchor="middle">597</text>
<text x="154" y="117.2" font-size="5" fill="#009400" text-anchor="middle">3</text>
<text x="169.5" y="117.2" font-size="5" fill="#009400" text-anchor="middle">596</text>
<text x="189.5" y="117.2" font-size="5" fill="#009400" text-anchor="middle">3</text>
<text x="201.7" y="117.2" font-size="5" fill="#009400" text-anchor="middle">461</text>
<text x="216" y="117.2" font-size="5" fill="#009400" text-anchor="middle">3</text>
<text x="229" y="117.2" font-size="5" fill="#009400" text-anchor="middle">461</text>
<text x="238.5" y="117.2" font-size="5" fill="#009400" text-anchor="middle">3</text>
<text x="270" y="117.2" font-size="5" fill="#009400" text-anchor="middle">894</text>
</g>
<text class="cj" x="480.3" y="138.4" font-size="6.9" fill="#e0e0e0" textLength="41.4" lengthAdjust="spacingAndGlyphs">柜下身平面图</text>
</g>
<g id="elevation">
<path d="M61.3 163.5L301.8 163.5" stroke="#848484" stroke-width="1"/>
<path d="M61.5 161L61.5 170.5" stroke="#848484" stroke-width="1"/>
<path d="M301.5 161L301.5 170.5" stroke="#848484" stroke-width="1"/>
<rect x="176.3" y="159.2" width="8.9" height="4.6" fill="#00ff00"/>
<path d="M44.5 173.3L44.5 311.8" stroke="#848484" stroke-width="1"/>
<path d="M53.5 173.3L53.5 311.8" stroke="#848484" stroke-width="1"/>
<path d="M43 174.5L61 174.5" stroke="#848484" stroke-width="1"/>
<path d="M51.5 188.5L61 188.5" stroke="#848484" stroke-width="1"/>
<path d="M51.5 304.5L60.5 304.5" stroke="#848484" stroke-width="1"/>
<path d="M43 310.5L60.5 310.5" stroke="#848484" stroke-width="1"/>
<rect x="47.2" y="178" width="4.8" height="7.8" fill="#00ff00"/>
<rect x="38.8" y="237.2" width="5.4" height="10.8" fill="#00ff00"/>
<rect x="47.2" y="242" width="4.8" height="11.3" fill="#00ff00"/>
<rect x="47.2" y="304.7" width="4.8" height="7.3" fill="#00ff00"/>
<rect x="61.5" y="174.5" width="240" height="136" fill="none" stroke="#00ffff" stroke-width="1"/>
<path d="M62.5 174.7L62.5 310.8" stroke="#00ffff" stroke-width="1.4"/>
<path d="M61.3 189L298.5 189" stroke="#00ffff" stroke-width="2"/>
<path d="M83.5 174.7L83.5 310.8" stroke="#00ffff" stroke-width="1"/>
<path d="M192.5 174.7L192.5 189" stroke="#00ffff" stroke-width="1"/>
<path d="M116 189L116 304.3" stroke="#00ffff" stroke-width="1.6"/>
<path d="M61.3 304L116.3 304" stroke="#00ffff" stroke-width="1.8"/>
<path d="M62 245.5L116.3 245.5" stroke="#00ffff" stroke-width="1"/>
<path d="M62 247.5L116.3 247.5" stroke="#00ffff" stroke-width="1"/>
<path d="M63.7 194L115 194" stroke="#909090" stroke-width="1.7"/>
<rect x="63.5" y="192.5" width="1" height="3" fill="none" stroke="#909090" stroke-width="0.6"/>
<rect x="114.5" y="192.5" width="1" height="3" fill="none" stroke="#909090" stroke-width="0.6"/>
<path d="M63.7 252L115 252" stroke="#909090" stroke-width="1.7"/>
<rect x="63.5" y="250.5" width="1" height="3" fill="none" stroke="#909090" stroke-width="0.6"/>
<rect x="114.5" y="250.5" width="1" height="3" fill="none" stroke="#909090" stroke-width="0.6"/>
<path d="M97.5 189L97.5 304.7" stroke="#848484" stroke-width="1"/>
<path d="M103.5 189L103.5 304.7" stroke="#848484" stroke-width="1"/>
<rect x="97" y="189.2" width="5.2" height="4.6" fill="#00ff00"/>
<rect x="97" y="223.3" width="5.2" height="10.9" fill="#00ff00"/>
<rect x="97.5" y="262.5" width="4.7" height="7.2" fill="#00ff00"/>
<rect x="97.5" y="281.3" width="4.7" height="7.5" fill="#00ff00"/>
<rect x="97.5" y="300.3" width="4.7" height="4.4" fill="#00ff00"/>
<path d="M101.7 262.5L110 262.5" stroke="#848484" stroke-width="1"/>
<path d="M101.7 268.5L110 268.5" stroke="#848484" stroke-width="1"/>
<path d="M101.7 299.5L110 299.5" stroke="#848484" stroke-width="1"/>
<path d="M101.7 193.5L110 193.5" stroke="#848484" stroke-width="1"/>
<text transform="translate(94.9 247) rotate(-90)" font-size="4.6" fill="#009400" text-anchor="middle">40</text>
<path d="M117.5 189.5L117.5 304.3" stroke="#848484" stroke-width="0.9"/>
<path d="M120.5 189.5L120.5 304.3" stroke="#848484" stroke-width="0.9"/>
<path d="M148.5 189.5L148.5 304.3" stroke="#848484" stroke-width="0.9"/>
<path d="M156.5 189.5L156.5 304.3" stroke="#848484" stroke-width="0.9"/>
<path d="M183.5 189.5L183.5 304.3" stroke="#848484" stroke-width="0.9"/>
<path d="M187.5 189.5L187.5 304.3" stroke="#848484" stroke-width="0.9"/>
<path d="M192.5 189.5L192.5 304.3" stroke="#848484" stroke-width="0.9"/>
<path d="M211.5 189.5L211.5 304.3" stroke="#848484" stroke-width="0.9"/>
<path d="M219.5 189.5L219.5 304.3" stroke="#848484" stroke-width="0.9"/>
<path d="M239.5 189.5L239.5 304.3" stroke="#848484" stroke-width="0.9"/>
<path d="M241.5 189.5L241.5 304.3" stroke="#848484" stroke-width="0.9"/>
<path d="M152 189.5L152 304.3" stroke="#8c8c8c" stroke-width="1.7"/>
<path d="M215 189.5L215 304.3" stroke="#8c8c8c" stroke-width="1.7"/>
<path d="M116.3 304.5L243.3 304.5" stroke="#848484" stroke-width="1"/>
<rect x="120" y="192" width="28" height="72" fill="none" stroke="#ff0000" stroke-width="1.5"/>
<rect x="122" y="194" width="24" height="68" fill="none" stroke="#ff0000" stroke-width="1.5"/>
<rect x="121.5" y="193.5" width="26" height="69" fill="none" stroke="#00ff00" stroke-width="0.7"/>
<rect x="123.5" y="195.5" width="22" height="66" fill="none" stroke="#a0a0a0" stroke-width="0.7"/>
<clipPath id="hc0"><rect x="123.4" y="195.5" width="22.2" height="65.4"/></clipPath>
<g clip-path="url(#hc0)" stroke="#cccccc" stroke-width="0.65">
<path d="M123.4 205L137.83 192.3"/>
<path d="M123.4 212L137.83 199.3"/>
<path d="M123.4 213.1L137.83 200.4" stroke-dasharray="1 0.6"/>
<path d="M130.06 216.14L145.6 202.46"/>
<path d="M126.06 224.66L145.6 207.46"/>
<path d="M123.4 234L143.38 216.42"/>
<path d="M123.4 235.1L143.38 217.52" stroke-dasharray="1 0.6"/>
<path d="M126.06 241.66L145.6 224.46"/>
<path d="M123.4 251L137.83 238.3"/>
<path d="M123.4 261L145.6 241.46"/>
<path d="M123.4 262.1L145.6 242.56" stroke-dasharray="1 0.6"/>
<path d="M130.06 262.14L145.6 248.46"/>
<path d="M123.4 276L145.6 256.46"/>
</g>
<rect x="120" y="268" width="28" height="32" fill="none" stroke="#ff0000" stroke-width="1.5"/>
<rect x="122" y="270" width="24" height="28" fill="none" stroke="#ff0000" stroke-width="1.5"/>
<rect x="121.5" y="268.5" width="26" height="31" fill="none" stroke="#00ff00" stroke-width="0.7"/>
<rect x="123.5" y="270.5" width="22" height="27" fill="none" stroke="#00ff00" stroke-width="1"/>
<rect x="156" y="192" width="28" height="72" fill="none" stroke="#ff0000" stroke-width="1.5"/>
<rect x="158" y="194" width="24" height="68" fill="none" stroke="#ff0000" stroke-width="1.5"/>
<rect x="156.5" y="193.5" width="27" height="69" fill="none" stroke="#00ff00" stroke-width="0.7"/>
<rect x="158.5" y="195.5" width="23" height="66" fill="none" stroke="#a0a0a0" stroke-width="0.7"/>
<clipPath id="hc1"><rect x="158.4" y="195.5" width="23.2" height="65.4"/></clipPath>
<g clip-path="url(#hc1)" stroke="#cccccc" stroke-width="0.65">
<path d="M165.36 198.88L179.28 186.63"/>
<path d="M161.18 212.55L173.48 201.73"/>
<path d="M161.18 213.65L173.48 202.83" stroke-dasharray="1 0.6"/>
<path d="M158.4 225L181.6 204.58"/>
<path d="M158.4 230L181.6 209.58"/>
<path d="M158.4 240L181.6 219.58"/>
<path d="M158.4 241.1L181.6 220.68" stroke-dasharray="1 0.6"/>
<path d="M158.4 250L179.28 231.63"/>
<path d="M165.36 253.88L181.6 239.58"/>
<path d="M165.36 263.88L181.6 249.58"/>
<path d="M165.36 264.98L181.6 250.68" stroke-dasharray="1 0.6"/>
<path d="M158.4 278L181.6 257.58"/>
</g>
<rect x="156" y="268" width="28" height="32" fill="none" stroke="#ff0000" stroke-width="1.5"/>
<rect x="158" y="270" width="24" height="28" fill="none" stroke="#ff0000" stroke-width="1.5"/>
<rect x="156.5" y="268.5" width="27" height="31" fill="none" stroke="#00ff00" stroke-width="0.7"/>
<rect x="158.5" y="270.5" width="23" height="27" fill="none" stroke="#00ff00" stroke-width="1"/>
<rect x="192" y="192" width="20" height="72" fill="none" stroke="#ff0000" stroke-width="1.5"/>
<rect x="194" y="194" width="16" height="68" fill="none" stroke="#ff0000" stroke-width="1.5"/>
<rect x="192.5" y="193.5" width="19" height="69" fill="none" stroke="#00ff00" stroke-width="0.7"/>
<rect x="194.5" y="195.5" width="15" height="66" fill="none" stroke="#a0a0a0" stroke-width="0.7"/>
<clipPath id="hc2"><rect x="194.4" y="195.5" width="15.2" height="65.4"/></clipPath>
<g clip-path="url(#hc2)" stroke="#cccccc" stroke-width="0.65">
<path d="M194.4 205L204.28 196.31"/>
<path d="M194.4 210L204.28 201.31"/>
<path d="M194.4 211.1L204.28 202.41" stroke-dasharray="1 0.6"/>
<path d="M194.4 218L209.6 204.62"/>
<path d="M196.22 221.39L208.08 210.96"/>
<path d="M194.4 228L209.6 214.62"/>
<path d="M194.4 229.1L209.6 215.72" stroke-dasharray="1 0.6"/>
<path d="M194.4 238L209.6 224.62"/>
<path d="M196.22 244.39L208.08 233.96"/>
<path d="M194.4 251L204.28 242.31"/>
<path d="M194.4 252.1L204.28 243.41" stroke-dasharray="1 0.6"/>
<path d="M196.22 254.39L204.28 247.31"/>
<path d="M198.96 259.99L209.6 250.62"/>
<path d="M194.4 271L209.6 257.62"/>
<path d="M194.4 272.1L209.6 258.72" stroke-dasharray="1 0.6"/>
<path d="M194.4 276L209.6 262.62"/>
</g>
<rect x="192" y="268" width="20" height="32" fill="none" stroke="#ff0000" stroke-width="1.5"/>
<rect x="194" y="270" width="16" height="28" fill="none" stroke="#ff0000" stroke-width="1.5"/>
<rect x="192.5" y="268.5" width="19" height="31" fill="none" stroke="#00ff00" stroke-width="0.7"/>
<rect x="194.5" y="270.5" width="15" height="27" fill="none" stroke="#00ff00" stroke-width="1"/>
<rect x="220" y="192" width="20" height="72" fill="none" stroke="#ff0000" stroke-width="1.5"/>
<rect x="222" y="194" width="16" height="68" fill="none" stroke="#ff0000" stroke-width="1.5"/>
<rect x="220.5" y="193.5" width="18" height="69" fill="none" stroke="#00ff00" stroke-width="0.7"/>
<rect x="222.5" y="195.5" width="14" height="66" fill="none" stroke="#a0a0a0" stroke-width="0.7"/>
<clipPath id="hc3"><rect x="222.4" y="195.5" width="14.2" height="65.4"/></clipPath>
<g clip-path="url(#hc3)" stroke="#cccccc" stroke-width="0.65">
<path d="M222.4 205L235.18 193.75"/>
<path d="M226.66 209.25L236.6 200.5"/>
<path d="M226.66 210.35L236.6 201.6" stroke-dasharray="1 0.6"/>
<path d="M222.4 220L236.6 207.5"/>
<path d="M222.4 228L236.6 215.5"/>
<path d="M224.1 236.5L235.18 226.75"/>
<path d="M224.1 237.6L235.18 227.85" stroke-dasharray="1 0.6"/>
<path d="M226.66 244.25L231.63 239.88"/>
<path d="M226.66 249.25L231.63 244.88"/>
<path d="M224.1 259.5L236.6 248.5"/>
<path d="M224.1 260.6L236.6 249.6" stroke-dasharray="1 0.6"/>
<path d="M224.1 267.5L236.6 256.5"/>
</g>
<rect x="220" y="268" width="20" height="32" fill="none" stroke="#ff0000" stroke-width="1.5"/>
<rect x="222" y="270" width="16" height="28" fill="none" stroke="#ff0000" stroke-width="1.5"/>
<rect x="220.5" y="268.5" width="18" height="31" fill="none" stroke="#00ff00" stroke-width="0.7"/>
<rect x="222.5" y="270.5" width="14" height="27" fill="none" stroke="#00ff00" stroke-width="1"/>
<rect x="149.2" y="254.3" width="5.5" height="9.4" fill="#8a8a8a"/>
<rect x="212.5" y="254.3" width="5.5" height="9.4" fill="#8a8a8a"/>
<path d="M120.5 189.5L120.5 304" stroke="#00ffff" stroke-width="0.8"/>
<path d="M244 189L244 304.3" stroke="#00ffff" stroke-width="1.6"/>
<path d="M297.5 189L297.5 304.3" stroke="#00ffff" stroke-width="2.6"/>
<path d="M243.3 304L298.5 304" stroke="#00ffff" stroke-width="2"/>
<path d="M243.5 212L297.7 212" stroke="#00ffff" stroke-width="1.6"/>
<path d="M245 211.5L296.5 211.5" stroke="#00ff00" stroke-width="0.9" stroke-dasharray="3.5 2"/>
<path d="M243.5 235L297.7 235" stroke="#00ffff" stroke-width="1.6"/>
<path d="M245 234.5L296.5 234.5" stroke="#00ff00" stroke-width="0.9" stroke-dasharray="3.5 2"/>
<path d="M243.5 258L297.7 258" stroke="#00ffff" stroke-width="1.6"/>
<path d="M245 257.5L296.5 257.5" stroke="#00ff00" stroke-width="0.9" stroke-dasharray="3.5 2"/>
<path d="M243.5 281L297.7 281" stroke="#00ffff" stroke-width="1.6"/>
<path d="M245 280.5L296.5 280.5" stroke="#00ff00" stroke-width="0.9" stroke-dasharray="3.5 2"/>
<path d="M245 190.5L296.5 190.5" stroke="#00ff00" stroke-width="0.9" stroke-dasharray="3.5 2"/>
<rect x="265.2" y="190.3" width="12" height="3.9" fill="#ffffff"/>
<rect x="265.2" y="213.3" width="12" height="3.9" fill="#ffffff"/>
<rect x="265.2" y="236.4" width="12" height="3.9" fill="#ffffff"/>
<rect x="265.2" y="259.7" width="12" height="3.9" fill="#ffffff"/>
<rect x="265.2" y="282.6" width="12" height="3.9" fill="#ffffff"/>
<path d="M291.3 180.5L350.2 180.5" stroke="#848484" stroke-width="1"/>
<path d="M298.5 206.5L364.3 206.5" stroke="#848484" stroke-width="1"/>
<path d="M230.8 227.5L346 227.5" stroke="#848484" stroke-width="1"/>
<path d="M288.5 235.5L288.5 248.5L381.5 248.5" stroke="#848484" stroke-width="1" fill="none"/>
<path d="M270.2 308.5L366 308.5" stroke="#848484" stroke-width="1"/>
<text class="cs" x="307.7" y="179.3" font-size="6.6" fill="#c8c8c8" textLength="39" lengthAdjust="spacingAndGlyphs">顶L型收口板,</text>
<text class="cs" x="307.7" y="188" font-size="6.6" fill="#c8c8c8" textLength="23.3" lengthAdjust="spacingAndGlyphs">2米=2条</text>
<text class="cs" x="307.7" y="205.6" font-size="6.6" fill="#c8c8c8" textLength="52.5" lengthAdjust="spacingAndGlyphs">60×22平板收口条,</text>
<text class="cs" x="307.7" y="214.7" font-size="6.6" fill="#c8c8c8" textLength="29" lengthAdjust="spacingAndGlyphs">2.1米=1条</text>
<text class="cs" x="307.7" y="226.4" font-size="6.6" fill="#c8c8c8" textLength="36.6" lengthAdjust="spacingAndGlyphs">5mm钢化清玻</text>
<text class="cs" x="307.7" y="235.5" font-size="6.6" fill="#c8c8c8" textLength="33.3" lengthAdjust="spacingAndGlyphs">磨斜边25mm</text>
<text class="cs" x="307.7" y="246.4" font-size="6.6" fill="#c8c8c8" textLength="72" lengthAdjust="spacingAndGlyphs">拉11mm宽×12mm深的灯槽,</text>
<text class="cs" x="306.8" y="255.2" font-size="6.6" fill="#c8c8c8" textLength="69.5" lengthAdjust="spacingAndGlyphs">配置琳凯明YL-1609灯带</text>
<text class="cs" x="308" y="307.3" font-size="6.6" fill="#c8c8c8" textLength="56.3" lengthAdjust="spacingAndGlyphs">MS-C2刀形100mm高,</text>
<text class="cs" x="308" y="316.4" font-size="6.6" fill="#c8c8c8" textLength="29.7" lengthAdjust="spacingAndGlyphs">3.8米=1条</text>
<text class="cj" x="167.45" y="323.7" font-size="6.9" fill="#e0e0e0" textLength="26.7" lengthAdjust="spacingAndGlyphs">正立面图</text>
</g>
<g id="detail_L1">
<rect x="379.5" y="142.5" width="3" height="43" fill="none" stroke="#00ffff" stroke-width="1"/>
<rect x="382.5" y="182.5" width="10" height="3" fill="none" stroke="#00ffff" stroke-width="1"/>
<path d="M379.5 135.2L379.5 141.3" stroke="#848484" stroke-width="1"/>
<path d="M382.5 135.2L382.5 141.3" stroke="#848484" stroke-width="1"/>
<rect x="377" y="130" width="6" height="4.9" fill="#00ff00"/>
<path d="M371.5 142.2L371.5 185.5" stroke="#848484" stroke-width="1"/>
<path d="M369.2 142.5L377.8 142.5" stroke="#848484" stroke-width="1"/>
<path d="M371.5 185.5L379 185.5" stroke="#848484" stroke-width="1"/>
<rect x="365" y="160" width="5" height="8" fill="#00ff00"/>
<rect x="384" y="169" width="6.2" height="5" fill="#00ff00"/>
<path d="M381 174.5L393.7 174.5" stroke="#848484" stroke-width="1"/>
<path d="M392.5 174.5L392.5 180.8" stroke="#848484" stroke-width="1"/>
<path d="M382.5 174.5L382.5 182" stroke="#848484" stroke-width="1"/>
<path d="M396 182.5L405 182.5" stroke="#848484" stroke-width="1"/>
<path d="M396 185.5L405 185.5" stroke="#848484" stroke-width="1"/>
<path d="M402.5 181.2L402.5 193.4" stroke="#848484" stroke-width="1"/>
<rect x="396" y="188.2" width="6" height="4.8" fill="#00ff00"/>
<text class="cs" x="348.8" y="189.9" font-size="6.6" fill="#c8c8c8" textLength="20" lengthAdjust="spacingAndGlyphs">见光面</text>
<path d="M349 191.7L374.3 191.7L379.3 181.5" stroke="#848484" stroke-width="1" fill="none"/>
</g>
<g id="detail_L2">
<rect x="379.5" y="196.5" width="7" height="18" fill="none" stroke="#00ffff" stroke-width="1"/>
<path d="M380 197L386 213.5" stroke="#00ffff" stroke-width="0.8"/>
<path d="M386 197L380 213.5" stroke="#00ffff" stroke-width="0.8"/>
<rect x="379.5" y="214.5" width="18" height="6" fill="none" stroke="#00ffff" stroke-width="1"/>
<path d="M370.5 196.3L370.5 220.8" stroke="#848484" stroke-width="1"/>
<path d="M368 196.5L377 196.5" stroke="#848484" stroke-width="1"/>
<path d="M368 214.5L377 214.5" stroke="#848484" stroke-width="1"/>
<path d="M370 220.5L377 220.5" stroke="#848484" stroke-width="1"/>
<rect x="364.2" y="203" width="4.9" height="6" fill="#00ff00"/>
<rect x="364.2" y="216" width="4.9" height="5" fill="#00ff00"/>
<path d="M379.3 230.5L398.3 230.5" stroke="#848484" stroke-width="1"/>
<path d="M379.5 224L379.5 232.8" stroke="#848484" stroke-width="1"/>
<path d="M397.5 224L397.5 232.8" stroke="#848484" stroke-width="1"/>
<rect x="386" y="225" width="5" height="5.7" fill="#00ff00"/>
</g>
<g id="detail_profile">
<path d="M388.6 294.1L388.6 322.5L383.5 322.5L383.5 304.4L386.7 304.4L386.7 302.5L383.5 299.2L386.5 296.7L386.5 294.1L388.6 294.1" stroke="#ff0000" stroke-width="1.1" fill="none"/>
<rect x="388.1" y="292" width="8" height="4" fill="#00ffff"/>
<rect x="388.1" y="319.1" width="8" height="3.7" fill="#00ffff"/>
<rect x="389.3" y="292.9" width="1" height="2.2" fill="#000"/>
<rect x="393.6" y="292.9" width="1" height="2.2" fill="#000"/>
<rect x="389.3" y="319.9" width="1" height="2.2" fill="#000"/>
<rect x="393.6" y="319.9" width="1" height="2.2" fill="#000"/>
<path d="M374.5 292.3L374.5 322.7" stroke="#848484" stroke-width="1"/>
<path d="M372.2 292.5L380.8 292.5" stroke="#848484" stroke-width="1"/>
<path d="M372.2 322.5L380.8 322.5" stroke="#848484" stroke-width="1"/>
<text transform="translate(372.8 307.6) rotate(-90)" font-size="4" fill="#009400" text-anchor="middle">100</text>
<path d="M387.3 283.5L396.8 283.5" stroke="#848484" stroke-width="1"/>
<path d="M388.5 281L388.5 289" stroke="#848484" stroke-width="1"/>
<path d="M395.5 281L395.5 289" stroke="#848484" stroke-width="1"/>
<rect x="389" y="278" width="5" height="4.8" fill="#00ff00"/>
</g>
<g id="glass_panels">
<rect x="434.5" y="193.5" width="25" height="69" fill="none" stroke="#00ffff" stroke-width="1.1"/>
<rect x="435.5" y="194.5" width="23" height="67" fill="none" stroke="#a0a0a0" stroke-width="0.7"/>
<clipPath id="hg0"><rect x="436.1" y="195" width="22" height="65.8"/></clipPath>
<g clip-path="url(#hg0)" stroke="#cccccc" stroke-width="0.65">
<path d="M436.1 204L458.1 184.64"/>
<path d="M436.1 215L458.1 195.64"/>
<path d="M436.1 216.1L458.1 196.74" stroke-dasharray="1 0.6"/>
<path d="M436.1 221L450.4 208.42"/>
<path d="M442.7 221.19L458.1 207.64"/>
<path d="M436.1 233L455.9 215.58"/>
<path d="M436.1 234.1L455.9 216.68" stroke-dasharray="1 0.6"/>
<path d="M436.1 244L458.1 224.64"/>
<path d="M442.7 244.19L455.9 232.58"/>
<path d="M442.7 250.19L458.1 236.64"/>
<path d="M442.7 251.29L458.1 237.74" stroke-dasharray="1 0.6"/>
<path d="M442.7 258.19L458.1 244.64"/>
<path d="M436.1 275L458.1 255.64"/>
<path d="M442.7 275.19L458.1 261.64"/>
<path d="M442.7 276.29L458.1 262.74" stroke-dasharray="1 0.6"/>
</g>
<path d="M434.5 184.5L459.7 184.5" stroke="#848484" stroke-width="1"/>
<path d="M434.5 182.3L434.5 191.8" stroke="#848484" stroke-width="1"/>
<path d="M459.5 182.3L459.5 191.8" stroke="#848484" stroke-width="1"/>
<text x="447.1" y="183.4" font-size="4.6" fill="#009400" text-anchor="middle">451</text>
<path d="M423.5 193.2L423.5 262.7" stroke="#848484" stroke-width="1"/>
<path d="M421.3 193.5L430 193.5" stroke="#848484" stroke-width="1"/>
<path d="M421.3 262.5L430 262.5" stroke="#848484" stroke-width="1"/>
<text transform="translate(421.7 228.5) rotate(-90)" font-size="4.6" fill="#009400" text-anchor="middle">1509</text>
<text class="cs" x="414.2" y="274.3" font-size="6.6" fill="#c8c8c8" textLength="57.1" lengthAdjust="spacingAndGlyphs">5mm钢化清玻尺寸图</text>
<rect x="504.5" y="193.5" width="19" height="69" fill="none" stroke="#00ffff" stroke-width="1.1"/>
<rect x="506.5" y="194.5" width="15" height="67" fill="none" stroke="#a0a0a0" stroke-width="0.7"/>
<clipPath id="hg1"><rect x="506.3" y="195" width="15.4" height="65.8"/></clipPath>
<g clip-path="url(#hg1)" stroke="#cccccc" stroke-width="0.65">
<path d="M508.15 202.37L521.7 190.45"/>
<path d="M510.92 205.93L521.7 196.45"/>
<path d="M510.92 207.03L521.7 197.55" stroke-dasharray="1 0.6"/>
<path d="M506.3 218L516.31 209.19"/>
<path d="M506.3 226L521.7 212.45"/>
<path d="M510.92 227.93L521.7 218.45"/>
<path d="M510.92 229.03L521.7 219.55" stroke-dasharray="1 0.6"/>
<path d="M508.15 238.37L516.31 231.19"/>
<path d="M506.3 251L520.16 238.8"/>
<path d="M506.3 262L521.7 248.45"/>
<path d="M506.3 263.1L521.7 249.55" stroke-dasharray="1 0.6"/>
<path d="M506.3 270L521.7 256.45"/>
<path d="M510.92 271.93L521.7 262.45"/>
</g>
<path d="M504.7 184.5L523.3 184.5" stroke="#848484" stroke-width="1"/>
<path d="M504.5 182.3L504.5 191.8" stroke="#848484" stroke-width="1"/>
<path d="M523.5 182.3L523.5 191.8" stroke="#848484" stroke-width="1"/>
<text x="514" y="183.4" font-size="4.6" fill="#009400" text-anchor="middle">361</text>
<path d="M493.5 193.2L493.5 262.7" stroke="#848484" stroke-width="1"/>
<path d="M491.5 193.5L500.2 193.5" stroke="#848484" stroke-width="1"/>
<path d="M491.5 262.5L500.2 262.5" stroke="#848484" stroke-width="1"/>
<text transform="translate(491.9 228.5) rotate(-90)" font-size="4.6" fill="#009400" text-anchor="middle">1509</text>
<text class="cs" x="484.5" y="274.3" font-size="6.6" fill="#c8c8c8" textLength="57.1" lengthAdjust="spacingAndGlyphs">5mm钢化清玻尺寸图</text>
</g>
<g id="section_AA">
<path d="M547 174.5L556.5 174.5" stroke="#00ffff" stroke-width="1"/>
<path d="M547 310.5L557 310.5" stroke="#00ffff" stroke-width="1"/>
<rect x="572.5" y="174.5" width="36" height="136" fill="none" stroke="#00ffff" stroke-width="1"/>
<path d="M574 174.3L574 189" stroke="#00ffff" stroke-width="1.6"/>
<path d="M572.7 189L606.8 189" stroke="#00ffff" stroke-width="1.8"/>
<path d="M605.5 189L605.5 304" stroke="#00ffff" stroke-width="1"/>
<path d="M572.7 245.5L605.8 245.5" stroke="#00ffff" stroke-width="1"/>
<path d="M572.7 247.5L605.8 247.5" stroke="#00ffff" stroke-width="1"/>
<path d="M572.7 304L605.8 304" stroke="#00ffff" stroke-width="1.8"/>
<path d="M574.5 304L574.5 310.2" stroke="#00ffff" stroke-width="1"/>
<path d="M604.5 304L604.5 310.2" stroke="#00ffff" stroke-width="1"/>
<rect x="571.4" y="304" width="1.4" height="5.8" fill="#ff0000"/>
<path d="M586.6 194.5L591.8 194.5" stroke="#9a9a9a" stroke-width="0.8"/>
<path d="M589.5 191.7L589.5 197.3" stroke="#9a9a9a" stroke-width="0.8"/>
<circle cx="589.2" cy="194.5" r="1.2" fill="#8a8a8a"/>
<path d="M586.6 251.5L591.8 251.5" stroke="#9a9a9a" stroke-width="0.8"/>
<path d="M589.5 248.6L589.5 254.2" stroke="#9a9a9a" stroke-width="0.8"/>
<circle cx="589.2" cy="251.4" r="1.2" fill="#8a8a8a"/>
<path d="M572.7 162.5L607 162.5" stroke="#848484" stroke-width="1"/>
<path d="M572.7 168.5L607 168.5" stroke="#848484" stroke-width="1"/>
<path d="M572.5 160L572.5 174" stroke="#848484" stroke-width="1"/>
<path d="M607.5 160L607.5 174" stroke="#848484" stroke-width="1"/>
<text x="589.2" y="161.4" font-size="4.6" fill="#009400" text-anchor="middle">590</text>
<rect x="585" y="164.3" width="7" height="4.3" fill="#00ff00"/>
<rect x="603.3" y="164.3" width="4.3" height="4.3" fill="#00ff00"/>
<path d="M558.5 174.3L558.5 310.2" stroke="#848484" stroke-width="1"/>
<path d="M564.5 174.3L564.5 310.2" stroke="#848484" stroke-width="1"/>
<path d="M556 174.5L566 174.5" stroke="#848484" stroke-width="1"/>
<path d="M563.5 189.5L571 189.5" stroke="#848484" stroke-width="1"/>
<path d="M563.5 245.5L571 245.5" stroke="#848484" stroke-width="1"/>
<path d="M563.5 304.5L571 304.5" stroke="#848484" stroke-width="1"/>
<path d="M556 310.5L572.7 310.5" stroke="#848484" stroke-width="1"/>
<rect x="559" y="178.2" width="5" height="7.5" fill="#00ff00"/>
<rect x="559" y="187.2" width="5" height="4.4" fill="#00ff00"/>
<rect x="559" y="214" width="5" height="7.8" fill="#00ff00"/>
<rect x="559" y="245.2" width="5" height="3.8" fill="#00ff00"/>
<rect x="559" y="272.6" width="5" height="7.4" fill="#00ff00"/>
<rect x="559" y="300" width="5" height="9.5" fill="#00ff00"/>
<text transform="translate(556.9 242.6) rotate(-90)" font-size="4.6" fill="#009400" text-anchor="middle">2366</text>
<path d="M617.5 188.3L617.5 310.2" stroke="#848484" stroke-width="1"/>
<path d="M627.5 188.3L627.5 310.8" stroke="#848484" stroke-width="1"/>
<path d="M611.3 188.5L629.8 188.5" stroke="#848484" stroke-width="1"/>
<path d="M611 245.5L619 245.5" stroke="#848484" stroke-width="1"/>
<path d="M611 304.5L619 304.5" stroke="#848484" stroke-width="1"/>
<path d="M611 310.5L630 310.5" stroke="#848484" stroke-width="1"/>
<rect x="611.3" y="187.2" width="5.9" height="4.4" fill="#00ff00"/>
<rect x="611.3" y="245.2" width="5.9" height="3.8" fill="#00ff00"/>
<rect x="611.3" y="302.8" width="5.9" height="2" fill="#00ff00"/>
<text transform="translate(615.9 218.2) rotate(-90)" font-size="4.6" fill="#009400" text-anchor="middle">938</text>
<text transform="translate(615.9 276) rotate(-90)" font-size="4.6" fill="#009400" text-anchor="middle">1135</text>
<text transform="translate(615.9 300.6) rotate(-90)" font-size="3.8" fill="#009400" text-anchor="middle">543</text>
<text transform="translate(615.9 307.3) rotate(-90)" font-size="3.8" fill="#009400" text-anchor="middle">100</text>
<text transform="translate(625.7 250) rotate(-90)" font-size="4.6" fill="#009400" text-anchor="middle">2266</text>
<path d="M572.7 236.5L606 236.5" stroke="#848484" stroke-width="1"/>
<path d="M605.5 236.7L605.5 243" stroke="#848484" stroke-width="1"/>
<path d="M572.5 236.7L572.5 243" stroke="#848484" stroke-width="1"/>
<rect x="585" y="232.2" width="7" height="4.6" fill="#00ff00"/>
<rect x="632.3" y="166.8" width="4.7" height="5" fill="#00ff00"/>
<text class="cj" x="571" y="323.7" font-size="6.6" fill="#d8d8d8" textLength="36.5" lengthAdjust="spacingAndGlyphs">A-A侧剖面图</text>
</g>
<g id="door_detail1">
<rect x="646.5" y="163.5" width="74" height="14" fill="none" stroke="#ffffff" stroke-width="1.1" stroke-dasharray="4.6 2.6"/>
<path d="M659.8 165.9L662 164.4L685.5 164.4L683.5 167.9L681 171.6L664 171.6L661.5 168.6L659.8 165.9" stroke="#00ffff" stroke-width="1.1" fill="none"/>
<path d="M685.5 164.4L706 164.4L707.6 165.9L705.8 168.6L704 171.6L689 171.6L686.5 169L684.3 167.6" stroke="#00ffff" stroke-width="1.1" fill="none"/>
<path d="M671.8 171.5L680 171.5" stroke="#9a9a9a" stroke-width="0.9"/>
<path d="M646.5 166.5L660 166.5" stroke="#00ff00" stroke-width="1"/>
<path d="M646.5 172.5 Q648 168.2 660 167.8" stroke="#00ff00" stroke-width="1"/>
<path d="M708 166.5L720.5 166.5" stroke="#00ff00" stroke-width="1"/>
<path d="M720.5 172.5 Q719 168.2 708 167.8" stroke="#00ff00" stroke-width="1"/>
<path d="M657.3 166.8L662.4 167.6L660.8 174.2z" stroke="#ffff00" stroke-width="1" fill="none"/>
<path d="M709.8 166.8L704.7 167.6L706.3 174.2z" stroke="#ffff00" stroke-width="1" fill="none"/>
<rect x="632.3" y="166.9" width="4.8" height="5" fill="#00ff00"/>
<rect x="667.3" y="166.1" width="4.5" height="4.9" fill="#00ff00"/>
<rect x="722.1" y="166.9" width="4.9" height="5" fill="#00ff00"/>
<rect x="680.9" y="151.8" width="5" height="5" fill="#00ff00"/>
<rect x="669.1" y="180" width="5" height="5" fill="#00ff00"/>
<rect x="691.9" y="180" width="4.9" height="5" fill="#00ff00"/>
<path d="M637.4 166.5L644.6 166.5" stroke="#848484" stroke-width="1"/>
<path d="M637.4 171.5L644.6 171.5" stroke="#848484" stroke-width="1"/>
<path d="M638.5 165.5L638.5 172.5" stroke="#848484" stroke-width="0.8"/>
<path d="M727.5 166.5L730.5 166.5L730.5 171.5L727.5 171.5" stroke="#848484" stroke-width="1" fill="none"/>
<path d="M686.5 155.6L686.5 163.9" stroke="#848484" stroke-width="1"/>
<path d="M683.5 157L683.5 163.9" stroke="#848484" stroke-width="1"/>
<path d="M695.5 158.3L695.5 167.7" stroke="#848484" stroke-width="1"/>
<path d="M689.2 167.5L695.5 167.5" stroke="#848484" stroke-width="1"/>
<text x="687.3" y="156.3" font-size="4" fill="#009400">3</text>
<text x="690.5" y="161.5" font-size="3.6" fill="#009400">18</text>
<path d="M660 185.5L706.6 185.5" stroke="#848484" stroke-width="1"/>
<path d="M660.5 179.4L660.5 186.5" stroke="#848484" stroke-width="1"/>
<path d="M683.5 179.4L683.5 186.5" stroke="#848484" stroke-width="1"/>
<path d="M706.5 179.4L706.5 186.5" stroke="#848484" stroke-width="1"/>
<text x="685" y="183.7" font-size="3.6" fill="#009400">5</text>
<path d="M707.8 174.5L710.3 190.3L731.5 190.3" stroke="#848484" stroke-width="1" fill="none"/>
<text x="711.4" y="189.8" font-size="6.4" fill="#c8c8c8" font-family="Liberation Mono" textLength="20.9" lengthAdjust="spacingAndGlyphs">MS-B63</text>
<text class="cj" x="646.1" y="197.5" font-size="7" fill="#d8d8d8" textLength="33.6" lengthAdjust="spacingAndGlyphs">柜门大样图</text>
</g>
<g id="door_detail2">
<rect x="646.5" y="214.5" width="74" height="15" fill="none" stroke="#ffffff" stroke-width="1.1" stroke-dasharray="4.6 2.6"/>
<path d="M659.8 217.5L662 216L685.5 216L683.5 219.5L681 223.2L664 223.2L661.5 220.2L659.8 217.5" stroke="#00ffff" stroke-width="1.1" fill="none"/>
<path d="M685.5 216L706 216L707.6 217.5L705.8 220.2L704 223.2L689 223.2L686.5 220.6L684.3 219.2" stroke="#00ffff" stroke-width="1.1" fill="none"/>
<path d="M671.8 223.5L680 223.5" stroke="#9a9a9a" stroke-width="0.9"/>
<path d="M646.5 219L660 219" stroke="#00ffff" stroke-width="1.6"/>
<path d="M707.5 219L720.5 219" stroke="#00ffff" stroke-width="1.6"/>
<path d="M657.6 218 Q658 225 663 225.6" stroke="#ff0000" stroke-width="1.3"/>
<path d="M710.2 218 Q709.8 225 704.8 225.6" stroke="#ff0000" stroke-width="1.3"/>
<rect x="659.5" y="217.6" width="2.5" height="1.8" fill="#ff0000"/>
<rect x="705.6" y="217.6" width="2.6" height="1.8" fill="#ff0000"/>
<rect x="680.9" y="204.2" width="5" height="5" fill="#00ff00"/>
<rect x="667.3" y="218.3" width="4.5" height="4.8" fill="#00ff00"/>
<rect x="669.1" y="231.8" width="5" height="5" fill="#00ff00"/>
<rect x="691.9" y="231.8" width="5.1" height="5" fill="#00ff00"/>
<text x="631" y="220.6" font-size="3.6" fill="#009400">5</text>
<path d="M635.6 218.5L642.8 218.5" stroke="#848484" stroke-width="1"/>
<path d="M635.6 220.5L642.8 220.5" stroke="#848484" stroke-width="1"/>
<path d="M641.5 217L641.5 221.4" stroke="#848484" stroke-width="0.8"/>
<path d="M725.5 218.5L733.8 218.5" stroke="#848484" stroke-width="1"/>
<path d="M725.5 220.5L733.8 220.5" stroke="#848484" stroke-width="1"/>
<path d="M731.5 216.8L731.5 227.8" stroke="#848484" stroke-width="1"/>
<text x="726" y="227.4" font-size="3.6" fill="#009400">18</text>
<path d="M686.5 208L686.5 215.3" stroke="#848484" stroke-width="1"/>
<path d="M683.5 209.4L683.5 215.3" stroke="#848484" stroke-width="1"/>
<path d="M695.5 210.4L695.5 219.6" stroke="#848484" stroke-width="1"/>
<path d="M689.2 219.5L695.5 219.5" stroke="#848484" stroke-width="1"/>
<text x="687.3" y="208.6" font-size="4" fill="#009400">3</text>
<text x="690.5" y="213.8" font-size="3.6" fill="#009400">18</text>
<path d="M660 236.5L707.3 236.5" stroke="#848484" stroke-width="1"/>
<path d="M660.5 230.3L660.5 238.3" stroke="#848484" stroke-width="1"/>
<path d="M683.5 230.3L683.5 238.3" stroke="#848484" stroke-width="1"/>
<path d="M706.5 230.3L706.5 238.3" stroke="#848484" stroke-width="1"/>
<text x="685" y="235" font-size="3.6" fill="#009400">5</text>
<path d="M707.8 219L707.8 229L710.3 256L732.3 256" stroke="#848484" stroke-width="1" fill="none"/>
<text x="711.4" y="255.7" font-size="6.4" fill="#c8c8c8" font-family="Liberation Mono" textLength="20.9" lengthAdjust="spacingAndGlyphs">MS-B63</text>
<path d="M714.5 219.5L714.5 241.5L754.5 241.5" stroke="#848484" stroke-width="1" fill="none"/>
<text class="cs" x="715.3" y="240.3" font-size="6.6" fill="#c8c8c8" textLength="37.3" lengthAdjust="spacingAndGlyphs">5mm钢化清玻</text>
<text class="cs" x="716.4" y="249.6" font-size="6.6" fill="#c8c8c8" textLength="33.6" lengthAdjust="spacingAndGlyphs">磨斜边25mm</text>
<text class="cj" x="645.8" y="249.6" font-size="7" fill="#d8d8d8" textLength="48.4" lengthAdjust="spacingAndGlyphs">玻璃柜门大样图</text>
</g>
<g id="lamp_detail">
<rect x="652.5" y="269.5" width="68" height="18" fill="none" stroke="#ffffff" stroke-width="1.1" stroke-dasharray="4.6 2.6"/>
<path d="M652.6 272.5L703.5 272.5" stroke="#00ffff" stroke-width="1.2"/>
<path d="M652.6 282.5L703.5 282.5" stroke="#00ffff" stroke-width="1.2"/>
<path d="M703.5 272L703.5 287.2" stroke="#00ffff" stroke-width="1.4"/>
<path d="M714.5 269.6L714.5 287.2" stroke="#00ffff" stroke-width="1.4"/>
<path d="M703.5 263.5L703.5 272" stroke="#848484" stroke-width="1"/>
<rect x="667" y="275.6" width="7.1" height="7.6" fill="#ffffff"/>
<path d="M668 276.5L673.2 282.4" stroke="#000" stroke-width="0.8"/>
<path d="M673.2 276.5L668 282.4" stroke="#000" stroke-width="0.8"/>
<path d="M666.5 264.5L704.3 264.5" stroke="#848484" stroke-width="1"/>
<path d="M667.5 262.8L667.5 270.3" stroke="#848484" stroke-width="1"/>
<path d="M673.5 262.8L673.5 270.3" stroke="#848484" stroke-width="1"/>
<text x="670" y="263.4" font-size="4.4" fill="#009400" text-anchor="middle">11</text>
<text x="687.7" y="263.4" font-size="4.4" fill="#009400" text-anchor="middle">50</text>
<path d="M660.5 275.6L660.5 283.2" stroke="#848484" stroke-width="1"/>
<path d="M658 275.5L666 275.5" stroke="#848484" stroke-width="1"/>
<path d="M658 283.5L666 283.5" stroke="#848484" stroke-width="1"/>
<text x="654.3" y="280.8" font-size="3.8" fill="#009400">12</text>
<path d="M702.8 295.5L715.3 295.5" stroke="#848484" stroke-width="1"/>
<path d="M703.5 290L703.5 297.5" stroke="#848484" stroke-width="1"/>
<path d="M714.5 290L714.5 297.5" stroke="#848484" stroke-width="1"/>
<rect x="705" y="291.2" width="6.1" height="4.5" fill="#00ff00"/>
<text class="cj" x="647.4" y="298.3" font-size="7" fill="#d8d8d8" textLength="46.8" lengthAdjust="spacingAndGlyphs">灯槽层板大样图</text>
<path d="M670.5 283.5L670.5 308.5L751.5 308.5" stroke="#848484" stroke-width="1" fill="none"/>
<text class="cs" x="673.6" y="307.5" font-size="6.6" fill="#c8c8c8" textLength="71.5" lengthAdjust="spacingAndGlyphs">拉11mm宽×12mm深的灯槽,</text>
<text class="cs" x="673.6" y="316.6" font-size="6.6" fill="#c8c8c8" textLength="70" lengthAdjust="spacingAndGlyphs">配置琳凯明YL-1609灯带</text>
</g>
<g id="inner_elev">
<path d="M60.8 391.5L298.3 391.5" stroke="#848484" stroke-width="1"/>
<path d="M61.5 389.2L61.5 398.2" stroke="#848484" stroke-width="1"/>
<path d="M116.5 389.2L116.5 398.2" stroke="#848484" stroke-width="1"/>
<path d="M152.5 389.2L152.5 398.2" stroke="#848484" stroke-width="1"/>
<path d="M187.5 389.2L187.5 398.2" stroke="#848484" stroke-width="1"/>
<path d="M242.5 389.2L242.5 398.2" stroke="#848484" stroke-width="1"/>
<path d="M298.5 389.2L298.5 398.2" stroke="#848484" stroke-width="1"/>
<rect x="84.2" y="387" width="8" height="4.8" fill="#00ff00"/>
<rect x="130.3" y="387" width="8" height="4.8" fill="#00ff00"/>
<rect x="165.3" y="387" width="8" height="4.8" fill="#00ff00"/>
<rect x="211.3" y="387" width="7.9" height="4.8" fill="#00ff00"/>
<rect x="266.3" y="387" width="8.2" height="4.8" fill="#00ff00"/>
<path d="M52.5 401.7L52.5 524.4" stroke="#848484" stroke-width="1"/>
<path d="M49.2 401.5L57.5 401.5" stroke="#848484" stroke-width="1"/>
<path d="M49.2 523.5L57.5 523.5" stroke="#848484" stroke-width="1"/>
<text transform="translate(49.9 464.5) rotate(-90)" font-size="4.6" fill="#009400" text-anchor="middle">2366</text>
<path d="M61 401.5L298.6 401.5" stroke="#00ffff" stroke-width="1"/>
<path d="M61 403.5L298.6 403.5" stroke="#00ffff" stroke-width="1"/>
<path d="M62 400.6L62 524.2" stroke="#00ffff" stroke-width="2.4"/>
<path d="M298 400.6L298 524.2" stroke="#00ffff" stroke-width="2"/>
<path d="M61 523.5L299 523.5" stroke="#00ffff" stroke-width="1"/>
<path d="M61 518L298.6 518" stroke="#00ffff" stroke-width="2.2"/>
<path d="M83.5 401L83.5 523.7" stroke="#00ffff" stroke-width="1"/>
<path d="M116.5 401L116.5 523.7" stroke="#00ffff" stroke-width="2.6"/>
<path d="M152.5 401L152.5 523.7" stroke="#00ffff" stroke-width="2.6"/>
<path d="M187.5 401L187.5 523.7" stroke="#00ffff" stroke-width="2.6"/>
<path d="M242.5 401L242.5 523.7" stroke="#00ffff" stroke-width="2.6"/>
<path d="M62 461L116.7 461" stroke="#00ffff" stroke-width="2"/>
<path d="M152 426L187.5 426" stroke="#00ffff" stroke-width="2"/>
<path d="M242.8 426L298 426" stroke="#00ffff" stroke-width="2"/>
<path d="M152 449L187.5 449" stroke="#00ffff" stroke-width="2"/>
<path d="M242.8 449L298 449" stroke="#00ffff" stroke-width="2"/>
<path d="M116.7 472L298 472" stroke="#00ffff" stroke-width="2"/>
<path d="M116.7 495L298 495" stroke="#00ffff" stroke-width="2"/>
<path d="M245 402.5L296.5 402.5" stroke="#00ff00" stroke-width="0.9" stroke-dasharray="3.5 2"/>
<path d="M245 425.5L296.5 425.5" stroke="#00ff00" stroke-width="0.9" stroke-dasharray="3.5 2"/>
<path d="M245 448.5L296.5 448.5" stroke="#00ff00" stroke-width="0.9" stroke-dasharray="3.5 2"/>
<path d="M245 471.5L296.5 471.5" stroke="#00ff00" stroke-width="0.9" stroke-dasharray="3.5 2"/>
<path d="M245 494.5L296.5 494.5" stroke="#00ff00" stroke-width="0.9" stroke-dasharray="3.5 2"/>
<path d="M62.8 408L115.6 408" stroke="#909090" stroke-width="1.6"/>
<rect x="62.5" y="406.5" width="2" height="3" fill="none" stroke="#909090" stroke-width="0.6"/>
<rect x="114.5" y="406.5" width="1" height="3" fill="none" stroke="#909090" stroke-width="0.6"/>
<path d="M118.3 408L150.6 408" stroke="#909090" stroke-width="1.6"/>
<rect x="118.5" y="406.5" width="1" height="3" fill="none" stroke="#909090" stroke-width="0.6"/>
<rect x="149.5" y="406.5" width="1" height="3" fill="none" stroke="#909090" stroke-width="0.6"/>
<path d="M189 408L241.5 408" stroke="#909090" stroke-width="1.6"/>
<rect x="188.5" y="406.5" width="2" height="3" fill="none" stroke="#909090" stroke-width="0.6"/>
<rect x="240.5" y="406.5" width="1" height="3" fill="none" stroke="#909090" stroke-width="0.6"/>
<path d="M62.8 465L115.6 465" stroke="#909090" stroke-width="1.6"/>
<rect x="62.5" y="463.5" width="2" height="3" fill="none" stroke="#909090" stroke-width="0.6"/>
<rect x="114.5" y="463.5" width="1" height="3" fill="none" stroke="#909090" stroke-width="0.6"/>
<text class="cs" x="69.3" y="421.5" font-size="6.8" fill="#e8e8e8" textLength="34" lengthAdjust="spacingAndGlyphs">挂衣杆客供</text>
<path d="M67.9 422.5L104.3 422.5" stroke="#a0a0a0" stroke-width="0.9"/>
<path d="M68.5 408L68.5 422.4" stroke="#a0a0a0" stroke-width="0.9"/>
<text class="cs" x="121.3" y="421.5" font-size="6.8" fill="#e8e8e8" textLength="34" lengthAdjust="spacingAndGlyphs">挂衣杆客供</text>
<path d="M119.9 422.5L156.3 422.5" stroke="#a0a0a0" stroke-width="0.9"/>
<path d="M120.5 408L120.5 422.4" stroke="#a0a0a0" stroke-width="0.9"/>
<text class="cs" x="199.7" y="421.5" font-size="6.8" fill="#e8e8e8" textLength="34" lengthAdjust="spacingAndGlyphs">挂衣杆客供</text>
<path d="M198.3 422.5L234.7 422.5" stroke="#a0a0a0" stroke-width="0.9"/>
<path d="M198.5 408L198.5 422.4" stroke="#a0a0a0" stroke-width="0.9"/>
<text class="cs" x="69.3" y="479" font-size="6.8" fill="#e8e8e8" textLength="34" lengthAdjust="spacingAndGlyphs">挂衣杆客供</text>
<path d="M67.9 479.5L104.3 479.5" stroke="#a0a0a0" stroke-width="0.9"/>
<path d="M68.5 465.3L68.5 479.9" stroke="#a0a0a0" stroke-width="0.9"/>
<path d="M86.5 512.5L86.5 518.3" stroke="#ffffff" stroke-width="1"/>
<path d="M86.5 522.3L86.5 525.8" stroke="#ffffff" stroke-width="1"/>
<path d="M86.5 531.5L86.5 535.5L90.5 535.5" stroke="#ffffff" stroke-width="1" fill="none"/>
<text x="89.7" y="534.3" font-size="6.4" fill="#d8d8d8" font-family="Liberation Mono" textLength="10.6" lengthAdjust="spacingAndGlyphs">A-A</text>
<path d="M96.2 535.5L100.9 535.5" stroke="#ffffff" stroke-width="1"/>
<path d="M128.5 512.5L128.5 518.3" stroke="#ffffff" stroke-width="1"/>
<path d="M128.5 522.3L128.5 525.8" stroke="#ffffff" stroke-width="1"/>
<path d="M128.5 531.5L128.5 535.5L132.5 535.5" stroke="#ffffff" stroke-width="1" fill="none"/>
<text x="131.8" y="534.3" font-size="6.4" fill="#d8d8d8" font-family="Liberation Mono" textLength="10.6" lengthAdjust="spacingAndGlyphs">B-B</text>
<path d="M138.3 535.5L143 535.5" stroke="#ffffff" stroke-width="1"/>
<path d="M158.5 512.5L158.5 518.3" stroke="#ffffff" stroke-width="1"/>
<path d="M158.5 522.3L158.5 525.8" stroke="#ffffff" stroke-width="1"/>
<path d="M158.5 531.5L158.5 535.5L162.5 535.5" stroke="#ffffff" stroke-width="1" fill="none"/>
<text x="161.8" y="534.3" font-size="6.4" fill="#d8d8d8" font-family="Liberation Mono" textLength="10.6" lengthAdjust="spacingAndGlyphs">C-C</text>
<path d="M168.3 535.5L173 535.5" stroke="#ffffff" stroke-width="1"/>
<path d="M212.5 512.5L212.5 518.3" stroke="#ffffff" stroke-width="1"/>
<path d="M212.5 522.3L212.5 525.8" stroke="#ffffff" stroke-width="1"/>
<path d="M212.5 531.5L212.5 535.5L216.5 535.5" stroke="#ffffff" stroke-width="1" fill="none"/>
<text x="215.5" y="534.3" font-size="6.4" fill="#d8d8d8" font-family="Liberation Mono" textLength="10.6" lengthAdjust="spacingAndGlyphs">D-D</text>
<path d="M222 535.5L226.7 535.5" stroke="#ffffff" stroke-width="1"/>
<path d="M273.5 512.5L273.5 518.3" stroke="#ffffff" stroke-width="1"/>
<path d="M273.5 522.3L273.5 525.8" stroke="#ffffff" stroke-width="1"/>
<path d="M273.5 531.5L273.5 535.5L277.5 535.5" stroke="#ffffff" stroke-width="1" fill="none"/>
<text x="276.7" y="534.3" font-size="6.4" fill="#d8d8d8" font-family="Liberation Mono" textLength="10.6" lengthAdjust="spacingAndGlyphs">E-E</text>
<path d="M283.2 535.5L287.9 535.5" stroke="#ffffff" stroke-width="1"/>
<text class="cj" x="146.6" y="552.3" font-size="6.8" fill="#d8d8d8" textLength="53.4" lengthAdjust="spacingAndGlyphs">柜内结构正立面图</text>
</g>
<g id="sec_BB">
<path d="M322 387.5L333.6 387.5" stroke="#00ffff" stroke-width="1"/>
<path d="M322 523.5L334.8 523.5" stroke="#00ffff" stroke-width="1"/>
<path d="M353.9 375.5L388.4 375.5" stroke="#848484" stroke-width="1"/>
<path d="M353.9 382.5L388.4 382.5" stroke="#848484" stroke-width="1"/>
<path d="M353.5 373L353.5 387" stroke="#848484" stroke-width="1"/>
<path d="M388.5 373L388.5 387" stroke="#848484" stroke-width="1"/>
<rect x="367.15" y="372" width="8" height="3.5" fill="#00ff00"/>
<rect x="366.55" y="377" width="8.2" height="5.1" fill="#00ff00"/>
<rect x="384" y="377" width="4.8" height="5.1" fill="#00ff00"/>
<text class="cj" x="345.2" y="537.3" font-size="6.6" fill="#d8d8d8" textLength="37" lengthAdjust="spacingAndGlyphs">B-B侧剖面图</text>
<path d="M354 387.4L354 481" stroke="#00ffff" stroke-width="2.2"/>
<path d="M354 512.9L354 517" stroke="#00ffff" stroke-width="2.2"/>
<path d="M353.5 481.8L353.5 512.9" stroke="#00ff00" stroke-width="1.4"/>
<path d="M353.9 387.5L389.4 387.5" stroke="#00ffff" stroke-width="1"/>
<path d="M389.5 387.4L389.5 523.5" stroke="#00ffff" stroke-width="1"/>
<path d="M387.5 402L387.5 517" stroke="#00ffff" stroke-width="1"/>
<path d="M353.9 401.5L387.4 401.5" stroke="#00ffff" stroke-width="1.2"/>
<path d="M353.9 403.5L387.4 403.5" stroke="#00ffff" stroke-width="1.2"/>
<path d="M353.9 472L387.4 472" stroke="#00ffff" stroke-width="1.8"/>
<path d="M353.9 495L387.4 495" stroke="#00ffff" stroke-width="1.8"/>
<path d="M353.9 517L388.4 517" stroke="#00ffff" stroke-width="2"/>
<path d="M352.9 523.5L389.4 523.5" stroke="#00ffff" stroke-width="1"/>
<path d="M355.5 517L355.5 523.5" stroke="#00ffff" stroke-width="1"/>
<path d="M386.5 517L386.5 523.5" stroke="#00ffff" stroke-width="1"/>
<rect x="352.1" y="405.3" width="1.3" height="1.6" fill="#ff0000"/>
<rect x="351.9" y="475.2" width="1.5" height="1.6" fill="#ff0000"/>
<rect x="351.9" y="480.7" width="1.5" height="1.6" fill="#ff0000"/>
<rect x="351.9" y="512.6" width="1.5" height="1.6" fill="#ff0000"/>
<rect x="352" y="518" width="1.8" height="5.2" fill="#ff0000"/>
<path d="M366.9 407.5L372.1 407.5" stroke="#9a9a9a" stroke-width="0.8"/>
<path d="M369.5 404.8L369.5 410.4" stroke="#9a9a9a" stroke-width="0.8"/>
<circle cx="369.5" cy="407.6" r="1.2" fill="#8a8a8a"/>
<path d="M334.5 387.4L334.5 523.5" stroke="#848484" stroke-width="1"/>
<path d="M342.5 387.4L342.5 523.5" stroke="#848484" stroke-width="1"/>
<path d="M333 387.5L349 387.5" stroke="#848484" stroke-width="1"/>
<path d="M340 402.5L348.8 402.5" stroke="#848484" stroke-width="1"/>
<path d="M342 517.5L348.8 517.5" stroke="#848484" stroke-width="1"/>
<path d="M333.5 523.5L353 523.5" stroke="#848484" stroke-width="1"/>
<rect x="337.4" y="390.8" width="4.7" height="8" fill="#00ff00"/>
<rect x="329" y="451.2" width="5" height="9.8" fill="#00ff00"/>
<rect x="337.4" y="455" width="4.7" height="11" fill="#00ff00"/>
<rect x="337.1" y="517" width="5" height="7.6" fill="#00ff00"/>
<text x="337.3" y="403.8" font-size="3.6" fill="#009400">5</text>
<text x="337.3" y="516.5" font-size="3.6" fill="#009400">5</text>
<path d="M398.5 400.9L398.5 523.5" stroke="#848484" stroke-width="1"/>
<path d="M408.5 400.9L408.5 523.8" stroke="#848484" stroke-width="1"/>
<path d="M392 401.5L411 401.5" stroke="#848484" stroke-width="1"/>
<path d="M392 471.5L402 471.5" stroke="#848484" stroke-width="1"/>
<path d="M392 495.5L402 495.5" stroke="#848484" stroke-width="1"/>
<path d="M392 517.5L402 517.5" stroke="#848484" stroke-width="1"/>
<path d="M392 523.5L402 523.5" stroke="#848484" stroke-width="1"/>
<path d="M392 523.5L411 523.5" stroke="#848484" stroke-width="1"/>
<rect x="393.3" y="401.4" width="3.4" height="3.3" fill="#00ff00"/>
<rect x="392.1" y="470.1" width="5.7" height="4.7" fill="#00ff00"/>
<rect x="392.1" y="493.6" width="5.7" height="4.7" fill="#00ff00"/>
<rect x="392.1" y="512" width="5.7" height="5.4" fill="#00ff00"/>
<text transform="translate(397.4 437.2) rotate(-90)" font-size="4.6" fill="#009400" text-anchor="middle">1149</text>
<text transform="translate(397.4 483.7) rotate(-90)" font-size="4.4" fill="#009400" text-anchor="middle">371</text>
<text transform="translate(397.4 506.4) rotate(-90)" font-size="4.4" fill="#009400" text-anchor="middle">363</text>
<text transform="translate(397.4 521) rotate(-90)" font-size="3.4" fill="#009400" text-anchor="middle">543</text>
<text transform="translate(407 464) rotate(-90)" font-size="4.6" fill="#009400" text-anchor="middle">2266</text>
<path d="M355.6 461.5L386.6 461.5" stroke="#848484" stroke-width="1"/>
<path d="M355.5 459.2L355.5 467.6" stroke="#848484" stroke-width="1"/>
<path d="M386.5 459.2L386.5 467.6" stroke="#848484" stroke-width="1"/>
<rect x="367" y="456.2" width="7.9" height="4.9" fill="#00ff00"/>
</g>
<g id="sec_CC">
<path d="M427.5 387.5L438.6 387.5" stroke="#00ffff" stroke-width="1"/>
<path d="M427.5 523.5L438.6 523.5" stroke="#00ffff" stroke-width="1"/>
<path d="M458.2 375.5L488.8 375.5" stroke="#848484" stroke-width="1"/>
<path d="M458.2 382.5L488.8 382.5" stroke="#848484" stroke-width="1"/>
<path d="M458.5 373L458.5 387" stroke="#848484" stroke-width="1"/>
<path d="M488.5 373L488.5 387" stroke="#848484" stroke-width="1"/>
<rect x="469.5" y="372" width="8" height="3.5" fill="#00ff00"/>
<rect x="468.9" y="377" width="8.2" height="5.1" fill="#00ff00"/>
<rect x="484.4" y="377" width="4.8" height="5.1" fill="#00ff00"/>
<text class="cj" x="458.2" y="537.3" font-size="6.6" fill="#d8d8d8" textLength="37" lengthAdjust="spacingAndGlyphs">C-C侧剖面图</text>
<path d="M458 387.4L458 481" stroke="#00ffff" stroke-width="2.2"/>
<path d="M458 512.9L458 517" stroke="#00ffff" stroke-width="2.2"/>
<path d="M457.5 481.8L457.5 512.9" stroke="#00ff00" stroke-width="1.4"/>
<path d="M458.2 387.5L493.5 387.5" stroke="#00ffff" stroke-width="1"/>
<path d="M493.5 387.4L493.5 523.5" stroke="#00ffff" stroke-width="1.2"/>
<path d="M486.5 402L486.5 517" stroke="#00ffff" stroke-width="1"/>
<path d="M488.5 402L488.5 517" stroke="#00ffff" stroke-width="1"/>
<path d="M458.2 401.5L488.4 401.5" stroke="#00ffff" stroke-width="1.2"/>
<path d="M458.2 403.5L488.4 403.5" stroke="#00ffff" stroke-width="1.2"/>
<path d="M458.2 426L486.2 426" stroke="#00ffff" stroke-width="1.8"/>
<path d="M458.2 449L486.2 449" stroke="#00ffff" stroke-width="1.8"/>
<path d="M458.2 472L486.2 472" stroke="#00ffff" stroke-width="1.8"/>
<path d="M458.2 495L486.2 495" stroke="#00ffff" stroke-width="1.8"/>
<path d="M458.2 517L488.4 517" stroke="#00ffff" stroke-width="2"/>
<path d="M457.2 523.5L493.5 523.5" stroke="#00ffff" stroke-width="1"/>
<path d="M459.5 517L459.5 523.5" stroke="#00ffff" stroke-width="1"/>
<path d="M485.5 517L485.5 523.5" stroke="#00ffff" stroke-width="1"/>
<rect x="455.9" y="404.8" width="1.4" height="1.6" fill="#ff0000"/>
<rect x="456.2" y="475.2" width="1.5" height="1.6" fill="#ff0000"/>
<rect x="456.2" y="480.7" width="1.5" height="1.6" fill="#ff0000"/>
<rect x="456.2" y="512.6" width="1.5" height="1.6" fill="#ff0000"/>
<rect x="455.5" y="517.5" width="2" height="6" fill="none" stroke="#ff0000" stroke-width="0.8"/>
<path d="M438.5 387.4L438.5 523.5" stroke="#848484" stroke-width="1"/>
<path d="M446.5 387.4L446.5 523.5" stroke="#848484" stroke-width="1"/>
<path d="M437 387.5L452.7 387.5" stroke="#848484" stroke-width="1"/>
<path d="M444.3 401.5L452.7 401.5" stroke="#848484" stroke-width="1"/>
<path d="M444.3 517.5L452.7 517.5" stroke="#848484" stroke-width="1"/>
<path d="M437 523.5L457 523.5" stroke="#848484" stroke-width="1"/>
<text transform="translate(445 395.3) rotate(-90)" font-size="4.4" fill="#009400" text-anchor="middle">350</text>
<text x="441.3" y="403.8" font-size="3.6" fill="#009400">5</text>
<text transform="translate(436.9 455.5) rotate(-90)" font-size="4.6" fill="#009400" text-anchor="middle">2366</text>
<text transform="translate(445 460) rotate(-90)" font-size="4.6" fill="#009400" text-anchor="middle">1849</text>
<text transform="translate(445 519.2) rotate(-90)" font-size="3.6" fill="#009400" text-anchor="middle">543</text>
<path d="M501.5 400.9L501.5 523.5" stroke="#848484" stroke-width="1"/>
<path d="M508.5 400.9L508.5 523.8" stroke="#848484" stroke-width="1"/>
<path d="M495 401.5L511 401.5" stroke="#848484" stroke-width="1"/>
<path d="M495 426.5L503 426.5" stroke="#848484" stroke-width="1"/>
<path d="M495 449.5L503 449.5" stroke="#848484" stroke-width="1"/>
<path d="M495 471.5L503 471.5" stroke="#848484" stroke-width="1"/>
<path d="M495 495.5L503 495.5" stroke="#848484" stroke-width="1"/>
<path d="M495 517.5L503 517.5" stroke="#848484" stroke-width="1"/>
<path d="M495 523.5L511 523.5" stroke="#848484" stroke-width="1"/>
<rect x="495.1" y="400.2" width="5.1" height="5.4" fill="#00ff00"/>
<rect x="495.1" y="410.3" width="5.1" height="7.8" fill="#00ff00"/>
<rect x="495.1" y="424.3" width="5.1" height="4.4" fill="#00ff00"/>
<rect x="495.1" y="434.1" width="5.1" height="7.5" fill="#00ff00"/>
<rect x="495.1" y="447.5" width="5.1" height="4.7" fill="#00ff00"/>
<rect x="495.1" y="457.2" width="5.1" height="7.6" fill="#00ff00"/>
<rect x="495.1" y="470.1" width="5.1" height="4.7" fill="#00ff00"/>
<rect x="495.1" y="480.2" width="5.1" height="7.5" fill="#00ff00"/>
<rect x="495.1" y="493.3" width="5.1" height="5" fill="#00ff00"/>
<rect x="495.1" y="503.3" width="5.1" height="7.1" fill="#00ff00"/>
<rect x="495.1" y="512" width="5.1" height="12.6" fill="#00ff00"/>
<text transform="translate(507.3 464) rotate(-90)" font-size="4.6" fill="#009400" text-anchor="middle">2666</text>
<path d="M459.4 462.5L486.7 462.5" stroke="#848484" stroke-width="1"/>
<path d="M459.5 460.5L459.5 468.6" stroke="#848484" stroke-width="1"/>
<path d="M486.5 460.5L486.5 468.6" stroke="#848484" stroke-width="1"/>
<rect x="469.1" y="457.9" width="7.9" height="4.6" fill="#00ff00"/>
</g>
<g id="sec_DD">
<path d="M541.4 387.5L553.7 387.5" stroke="#00ffff" stroke-width="1"/>
<path d="M541.4 523.5L555.5 523.5" stroke="#00ffff" stroke-width="1"/>
<path d="M575.3 375.5L609 375.5" stroke="#848484" stroke-width="1"/>
<path d="M575.3 382.5L609 382.5" stroke="#848484" stroke-width="1"/>
<path d="M575.5 373L575.5 387" stroke="#848484" stroke-width="1"/>
<path d="M609.5 373L609.5 387" stroke="#848484" stroke-width="1"/>
<rect x="588.15" y="372" width="8" height="3.5" fill="#00ff00"/>
<rect x="587.55" y="377" width="8.2" height="5.1" fill="#00ff00"/>
<rect x="604.6" y="377" width="4.8" height="5.1" fill="#00ff00"/>
<text class="cj" x="572.2" y="537.3" font-size="6.6" fill="#d8d8d8" textLength="37" lengthAdjust="spacingAndGlyphs">D-D侧剖面图</text>
<path d="M575 387.4L575 403" stroke="#00ffff" stroke-width="1.8"/>
<path d="M574.5 403L574.5 480.3" stroke="#00ffff" stroke-width="1.4"/>
<path d="M575 512.9L575 517" stroke="#00ffff" stroke-width="1.6"/>
<path d="M574.5 481.8L574.5 512.9" stroke="#00ff00" stroke-width="1.4"/>
<path d="M575.3 387.5L610.8 387.5" stroke="#00ffff" stroke-width="1"/>
<path d="M610.5 387.4L610.5 523.5" stroke="#00ffff" stroke-width="1.2"/>
<path d="M608.5 402L608.5 471.8" stroke="#00ffff" stroke-width="1.2"/>
<path d="M575.3 401.5L608.5 401.5" stroke="#00ffff" stroke-width="1.2"/>
<path d="M574.6 403.5L608.5 403.5" stroke="#00ffff" stroke-width="1.2"/>
<path d="M574.6 472L608.5 472" stroke="#00ffff" stroke-width="2"/>
<path d="M598 471.8L598 518" stroke="#00ffff" stroke-width="2"/>
<path d="M574.6 495L597.9 495" stroke="#00ffff" stroke-width="1.8"/>
<path d="M574.6 517L597.9 517" stroke="#00ffff" stroke-width="2"/>
<path d="M573.6 523.5L610.8 523.5" stroke="#00ffff" stroke-width="1"/>
<path d="M576.5 517L576.5 523.5" stroke="#00ffff" stroke-width="1"/>
<path d="M596.5 517L596.5 523.5" stroke="#00ffff" stroke-width="1"/>
<rect x="573.5" y="475.5" width="2" height="6" fill="none" stroke="#00ffff" stroke-width="0.8"/>
<path d="M607.5 494L607.5 496" stroke="#00ffff" stroke-width="1"/>
<path d="M607.5 515.7L607.5 518.4" stroke="#00ffff" stroke-width="1"/>
<rect x="573.2" y="405.6" width="1.4" height="1.6" fill="#ff0000"/>
<rect x="573.5" y="480.7" width="1.8" height="1.6" fill="#ff0000"/>
<rect x="573.5" y="512.4" width="1.8" height="1.6" fill="#ff0000"/>
<rect x="572.2" y="518.8" width="1.8" height="4.6" fill="#ff0000"/>
<path d="M587.8 407.5L593 407.5" stroke="#9a9a9a" stroke-width="0.8"/>
<path d="M590.5 404.8L590.5 410.4" stroke="#9a9a9a" stroke-width="0.8"/>
<circle cx="590.4" cy="407.6" r="1.2" fill="#8a8a8a"/>
<path d="M555.5 387.4L555.5 523.5" stroke="#848484" stroke-width="1"/>
<path d="M563.5 387.4L563.5 523.5" stroke="#848484" stroke-width="1"/>
<path d="M553.5 387.5L569.9 387.5" stroke="#848484" stroke-width="1"/>
<path d="M561 401.5L569.9 401.5" stroke="#848484" stroke-width="1"/>
<path d="M561.8 517.5L569.9 517.5" stroke="#848484" stroke-width="1"/>
<path d="M553.5 523.5L574 523.5" stroke="#848484" stroke-width="1"/>
<text transform="translate(561.7 395.3) rotate(-90)" font-size="4.4" fill="#009400" text-anchor="middle">350</text>
<text x="558" y="403.8" font-size="3.6" fill="#009400">5</text>
<text transform="translate(553.7 455.5) rotate(-90)" font-size="4.6" fill="#009400" text-anchor="middle">2366</text>
<text transform="translate(561.7 460) rotate(-90)" font-size="4.6" fill="#009400" text-anchor="middle">1849</text>
<text transform="translate(561.9 519.2) rotate(-90)" font-size="3.6" fill="#009400" text-anchor="middle">543</text>
<path d="M619.5 400.9L619.5 523.5" stroke="#848484" stroke-width="1"/>
<path d="M629.5 400.9L629.5 523.8" stroke="#848484" stroke-width="1"/>
<path d="M613 401.5L632 401.5" stroke="#848484" stroke-width="1"/>
<path d="M613 471.5L621 471.5" stroke="#848484" stroke-width="1"/>
<path d="M613 495.5L621 495.5" stroke="#848484" stroke-width="1"/>
<path d="M613 517.5L621 517.5" stroke="#848484" stroke-width="1"/>
<path d="M613 523.5L632 523.5" stroke="#848484" stroke-width="1"/>
<rect x="613" y="400.2" width="5" height="5.4" fill="#00ff00"/>
<rect x="613" y="432" width="5" height="10.5" fill="#00ff00"/>
<rect x="623.1" y="457.9" width="4.7" height="10.7" fill="#00ff00"/>
<rect x="613" y="469.8" width="5" height="5" fill="#00ff00"/>
<rect x="613" y="480.2" width="5" height="7.5" fill="#00ff00"/>
<rect x="613" y="493.3" width="5" height="4.5" fill="#00ff00"/>
<rect x="613" y="503.3" width="5" height="6.7" fill="#00ff00"/>
<rect x="613" y="512" width="5" height="12.6" fill="#00ff00"/>
<path d="M575 451.5L599.6 451.5" stroke="#848484" stroke-width="1"/>
<path d="M575 458.5L599.6 458.5" stroke="#848484" stroke-width="1"/>
<path d="M575.5 449.2L575.5 465.1" stroke="#848484" stroke-width="1"/>
<path d="M598.5 449.2L598.5 465.1" stroke="#848484" stroke-width="1"/>
<text x="586.3" y="450.6" font-size="4.4" fill="#009400" text-anchor="middle">350</text>
<rect x="582" y="454.2" width="7.9" height="4.5" fill="#00ff00"/>
<rect x="595.4" y="454.2" width="4.2" height="4.5" fill="#00ff00"/>
<path d="M576.1 486.5L597.4 486.5" stroke="#848484" stroke-width="1"/>
<path d="M576.5 484.4L576.5 492.8" stroke="#848484" stroke-width="1"/>
<path d="M597.5 484.4L597.5 492.8" stroke="#848484" stroke-width="1"/>
<rect x="582" y="481.8" width="7.9" height="4.7" fill="#00ff00"/>
</g>
<g id="sec_EE">
<path d="M649.2 387.5L659.5 387.5" stroke="#00ffff" stroke-width="1"/>
<path d="M676 387.5L680.6 387.5" stroke="#00ffff" stroke-width="1"/>
<path d="M649.2 523.5L716.8 523.5" stroke="#00ffff" stroke-width="1"/>
<path d="M680.6 375.5L705 375.5" stroke="#848484" stroke-width="1"/>
<path d="M680.6 382.5L705 382.5" stroke="#848484" stroke-width="1"/>
<path d="M680.5 373L680.5 387" stroke="#848484" stroke-width="1"/>
<path d="M705.5 373L705.5 387" stroke="#848484" stroke-width="1"/>
<rect x="688.8" y="372" width="8" height="3.5" fill="#00ff00"/>
<rect x="688.2" y="377" width="8.2" height="5.1" fill="#00ff00"/>
<rect x="700.6" y="377" width="4.8" height="5.1" fill="#00ff00"/>
<text class="cj" x="672.2" y="537.3" font-size="6.6" fill="#d8d8d8" textLength="37" lengthAdjust="spacingAndGlyphs">E-E侧剖面图</text>
<path d="M681 387.4L681 403" stroke="#00ffff" stroke-width="1.8"/>
<path d="M680.5 403L680.5 523.5" stroke="#00ffff" stroke-width="1.1"/>
<path d="M680.6 387.5L716.8 387.5" stroke="#00ffff" stroke-width="1"/>
<path d="M717 387.4L717 523.5" stroke="#00ffff" stroke-width="1.5"/>
<path d="M704 402L704 517" stroke="#00ffff" stroke-width="1.8"/>
<path d="M680.6 401.5L704.1 401.5" stroke="#00ffff" stroke-width="1.2"/>
<path d="M680.6 403.5L704.1 403.5" stroke="#00ffff" stroke-width="1.2"/>
<path d="M680.6 426L704.1 426" stroke="#00ffff" stroke-width="1.8"/>
<rect x="699" y="425.2" width="2" height="1.6" fill="#ffffff"/>
<path d="M680.6 449L704.1 449" stroke="#00ffff" stroke-width="1.8"/>
<rect x="699" y="448.4" width="2" height="1.6" fill="#ffffff"/>
<path d="M680.6 472L704.1 472" stroke="#00ffff" stroke-width="1.8"/>
<rect x="699" y="471" width="2" height="1.6" fill="#ffffff"/>
<path d="M680.6 495L704.1 495" stroke="#00ffff" stroke-width="1.8"/>
<rect x="699" y="494.2" width="2" height="1.6" fill="#ffffff"/>
<rect x="699" y="401.6" width="2" height="1.6" fill="#ffffff"/>
<path d="M680.6 517L705 517" stroke="#00ffff" stroke-width="2"/>
<path d="M682.5 517L682.5 523.5" stroke="#00ffff" stroke-width="1.4"/>
<path d="M702.5 517L702.5 523.5" stroke="#00ffff" stroke-width="1.4"/>
<rect x="678.5" y="517.5" width="2" height="6" fill="none" stroke="#ff0000" stroke-width="0.8"/>
<path d="M661.5 387.4L661.5 523.5" stroke="#848484" stroke-width="1"/>
<path d="M668.5 387.4L668.5 523.5" stroke="#848484" stroke-width="1"/>
<path d="M659.5 387.5L676 387.5" stroke="#848484" stroke-width="1"/>
<rect x="663.1" y="390.8" width="4.9" height="8" fill="#00ff00"/>
<rect x="663.1" y="400.2" width="4.9" height="5.4" fill="#00ff00"/>
<rect x="663.1" y="410.3" width="4.9" height="7.3" fill="#00ff00"/>
<rect x="663.1" y="424.3" width="4.9" height="4.4" fill="#00ff00"/>
<rect x="663.1" y="434.1" width="4.9" height="7" fill="#00ff00"/>
<rect x="663.1" y="447.2" width="4.9" height="4.5" fill="#00ff00"/>
<rect x="663.1" y="457.2" width="4.9" height="7.2" fill="#00ff00"/>
<rect x="663.1" y="470.1" width="4.9" height="4.7" fill="#00ff00"/>
<rect x="663.1" y="480.2" width="4.9" height="7" fill="#00ff00"/>
<rect x="663.1" y="493.3" width="4.9" height="4.5" fill="#00ff00"/>
<rect x="663.1" y="503.3" width="4.9" height="6.7" fill="#00ff00"/>
<rect x="663.1" y="512.9" width="4.9" height="11.7" fill="#00ff00"/>
<rect x="655.1" y="451.2" width="4.7" height="9.8" fill="#00ff00"/>
<path d="M667.7 401.5L676.3 401.5" stroke="#8c8c8c" stroke-width="1.2"/>
<path d="M667.7 426.5L676.3 426.5" stroke="#8c8c8c" stroke-width="1.2"/>
<path d="M667.7 449.5L676.3 449.5" stroke="#8c8c8c" stroke-width="1.2"/>
<path d="M667.7 471.5L676.3 471.5" stroke="#8c8c8c" stroke-width="1.2"/>
<path d="M667.7 495.5L676.3 495.5" stroke="#8c8c8c" stroke-width="1.2"/>
<path d="M667.7 517.5L676.3 517.5" stroke="#8c8c8c" stroke-width="1.2"/>
<path d="M724.5 400.9L724.5 523.5" stroke="#848484" stroke-width="1"/>
<path d="M731.5 400.9L731.5 523.8" stroke="#848484" stroke-width="1"/>
<path d="M718 401.5L734 401.5" stroke="#848484" stroke-width="1"/>
<path d="M718 523.5L734 523.5" stroke="#848484" stroke-width="1"/>
<path d="M718 426.5L727 426.5" stroke="#8c8c8c" stroke-width="1.2"/>
<path d="M718 449.5L727 449.5" stroke="#8c8c8c" stroke-width="1.2"/>
<path d="M718 471.5L727 471.5" stroke="#8c8c8c" stroke-width="1.2"/>
<path d="M718 495.5L727 495.5" stroke="#8c8c8c" stroke-width="1.2"/>
<path d="M718 517.5L727 517.5" stroke="#8c8c8c" stroke-width="1.2"/>
<rect x="718.3" y="400.2" width="4.7" height="5.4" fill="#00ff00"/>
<rect x="718.3" y="410.3" width="4.7" height="7.3" fill="#00ff00"/>
<rect x="718.3" y="424.3" width="4.7" height="4.4" fill="#00ff00"/>
<rect x="718.3" y="434.1" width="4.7" height="7" fill="#00ff00"/>
<rect x="718.3" y="447.2" width="4.7" height="4.5" fill="#00ff00"/>
<rect x="718.3" y="457.2" width="4.7" height="7.2" fill="#00ff00"/>
<rect x="718.3" y="470.1" width="4.7" height="4.7" fill="#00ff00"/>
<rect x="718.3" y="480.2" width="4.7" height="7" fill="#00ff00"/>
<rect x="718.3" y="493.3" width="4.7" height="4.5" fill="#00ff00"/>
<rect x="718.3" y="503.3" width="4.7" height="6.7" fill="#00ff00"/>
<rect x="718.3" y="512.9" width="4.7" height="11.7" fill="#00ff00"/>
<rect x="725.2" y="457.9" width="4.5" height="10.7" fill="#00ff00"/>
</g>
</svg></body></html>
